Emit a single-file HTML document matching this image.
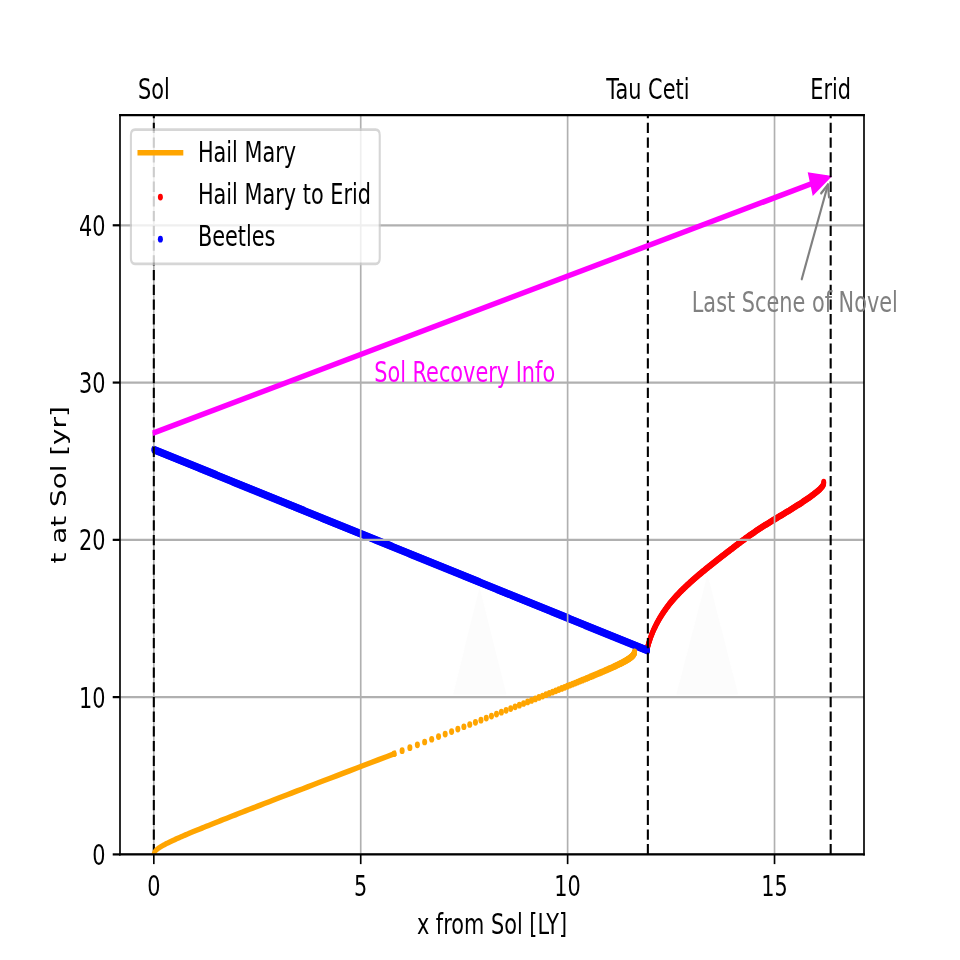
<!DOCTYPE html>
<html lang="en"><head><meta charset="utf-8"><title>Hail Mary spacetime diagram</title>
<style>
html,body{margin:0;padding:0;background:#fff;}
body{width:960px;height:960px;overflow:hidden;font-family:"DejaVu Sans","Liberation Sans",sans-serif;}
svg{display:block;}
svg text{font-family:"DejaVu Sans","Liberation Sans",sans-serif;}
</style></head><body>
<svg width="960" height="960" viewBox="0 0 1280 960" preserveAspectRatio="none">
 <defs>
  <style type="text/css">*{stroke-linejoin: round; stroke-linecap: butt}</style>
 </defs>
 <g id="figure_1">
  <g id="patch_1">
   <path d="M 0 960  L 1280 960  L 1280 0  L 0 0  z " style="fill: #ffffff"/>
  </g>
  <g id="axes_1">
   <g id="patch_2">
    <path d="M 160 854.4  L 1152 854.4  L 1152 115.2  L 160 115.2  z " style="fill: #ffffff"/>
   </g>
   <g id="patch_3">
    <path d="M 604.13 694.6  L 675.07 694.6  L 639.6 587.5  z " clip-path="url(#p3e86f9223a)" style="fill: #fcfcfc"/>
   </g>
   <g id="patch_4">
    <path d="M 901.87 694.4  L 984.13 694.4  L 943.33 574.8  z " clip-path="url(#p3e86f9223a)" style="fill: #fcfcfc"/>
   </g>
   <g id="PathCollection_1">
    <g clip-path="url(#p3e86f9223a)">
     <circle cx="862.88" cy="649.00" r="3.252" fill="#ff0000"/>
     <circle cx="863.24" cy="647.92" r="3.252" fill="#ff0000"/>
     <circle cx="863.61" cy="646.84" r="3.252" fill="#ff0000"/>
     <circle cx="864.00" cy="645.76" r="3.252" fill="#ff0000"/>
     <circle cx="864.40" cy="644.69" r="3.252" fill="#ff0000"/>
     <circle cx="864.81" cy="643.63" r="3.252" fill="#ff0000"/>
     <circle cx="865.23" cy="642.57" r="3.252" fill="#ff0000"/>
     <circle cx="865.67" cy="641.51" r="3.252" fill="#ff0000"/>
     <circle cx="866.12" cy="640.46" r="3.252" fill="#ff0000"/>
     <circle cx="866.58" cy="639.42" r="3.252" fill="#ff0000"/>
     <circle cx="867.06" cy="638.38" r="3.252" fill="#ff0000"/>
     <circle cx="867.55" cy="637.35" r="3.252" fill="#ff0000"/>
     <circle cx="868.05" cy="636.32" r="3.252" fill="#ff0000"/>
     <circle cx="868.56" cy="635.30" r="3.252" fill="#ff0000"/>
     <circle cx="869.09" cy="634.29" r="3.252" fill="#ff0000"/>
     <circle cx="869.62" cy="633.28" r="3.252" fill="#ff0000"/>
     <circle cx="870.17" cy="632.28" r="3.252" fill="#ff0000"/>
     <circle cx="870.73" cy="631.29" r="3.252" fill="#ff0000"/>
     <circle cx="871.31" cy="630.30" r="3.252" fill="#ff0000"/>
     <circle cx="871.89" cy="629.32" r="3.252" fill="#ff0000"/>
     <circle cx="872.48" cy="628.34" r="3.252" fill="#ff0000"/>
     <circle cx="873.09" cy="627.38" r="3.252" fill="#ff0000"/>
     <circle cx="873.71" cy="626.42" r="3.252" fill="#ff0000"/>
     <circle cx="874.33" cy="625.46" r="3.252" fill="#ff0000"/>
     <circle cx="874.97" cy="624.52" r="3.252" fill="#ff0000"/>
     <circle cx="875.62" cy="623.58" r="3.252" fill="#ff0000"/>
     <circle cx="876.28" cy="622.64" r="3.252" fill="#ff0000"/>
     <circle cx="876.94" cy="621.72" r="3.252" fill="#ff0000"/>
     <circle cx="877.62" cy="620.80" r="3.252" fill="#ff0000"/>
     <circle cx="878.31" cy="619.88" r="3.252" fill="#ff0000"/>
     <circle cx="879.00" cy="618.98" r="3.252" fill="#ff0000"/>
     <circle cx="879.71" cy="618.08" r="3.252" fill="#ff0000"/>
     <circle cx="880.42" cy="617.19" r="3.252" fill="#ff0000"/>
     <circle cx="881.14" cy="616.30" r="3.252" fill="#ff0000"/>
     <circle cx="881.87" cy="615.43" r="3.252" fill="#ff0000"/>
     <circle cx="882.61" cy="614.55" r="3.252" fill="#ff0000"/>
     <circle cx="883.36" cy="613.69" r="3.252" fill="#ff0000"/>
     <circle cx="884.11" cy="612.83" r="3.252" fill="#ff0000"/>
     <circle cx="884.87" cy="611.98" r="3.252" fill="#ff0000"/>
     <circle cx="885.64" cy="611.14" r="3.252" fill="#ff0000"/>
     <circle cx="886.42" cy="610.30" r="3.252" fill="#ff0000"/>
     <circle cx="887.20" cy="609.47" r="3.252" fill="#ff0000"/>
     <circle cx="887.99" cy="608.65" r="3.252" fill="#ff0000"/>
     <circle cx="888.79" cy="607.83" r="3.252" fill="#ff0000"/>
     <circle cx="889.59" cy="607.02" r="3.252" fill="#ff0000"/>
     <circle cx="890.40" cy="606.21" r="3.252" fill="#ff0000"/>
     <circle cx="891.22" cy="605.42" r="3.252" fill="#ff0000"/>
     <circle cx="892.04" cy="604.62" r="3.252" fill="#ff0000"/>
     <circle cx="892.87" cy="603.84" r="3.252" fill="#ff0000"/>
     <circle cx="893.70" cy="603.06" r="3.252" fill="#ff0000"/>
     <circle cx="894.54" cy="602.29" r="3.252" fill="#ff0000"/>
     <circle cx="895.39" cy="601.52" r="3.252" fill="#ff0000"/>
     <circle cx="896.24" cy="600.76" r="3.252" fill="#ff0000"/>
     <circle cx="897.09" cy="600.00" r="3.252" fill="#ff0000"/>
     <circle cx="897.96" cy="599.25" r="3.252" fill="#ff0000"/>
     <circle cx="898.82" cy="598.51" r="3.252" fill="#ff0000"/>
     <circle cx="899.69" cy="597.77" r="3.252" fill="#ff0000"/>
     <circle cx="900.57" cy="597.04" r="3.252" fill="#ff0000"/>
     <circle cx="901.45" cy="596.31" r="3.252" fill="#ff0000"/>
     <circle cx="902.33" cy="595.59" r="3.252" fill="#ff0000"/>
     <circle cx="903.22" cy="594.88" r="3.252" fill="#ff0000"/>
     <circle cx="904.12" cy="594.16" r="3.252" fill="#ff0000"/>
     <circle cx="905.01" cy="593.46" r="3.252" fill="#ff0000"/>
     <circle cx="905.92" cy="592.76" r="3.252" fill="#ff0000"/>
     <circle cx="906.82" cy="592.06" r="3.252" fill="#ff0000"/>
     <circle cx="907.73" cy="591.37" r="3.252" fill="#ff0000"/>
     <circle cx="908.64" cy="590.68" r="3.252" fill="#ff0000"/>
     <circle cx="909.56" cy="590.00" r="3.252" fill="#ff0000"/>
     <circle cx="910.47" cy="589.32" r="3.252" fill="#ff0000"/>
     <circle cx="911.39" cy="588.65" r="3.252" fill="#ff0000"/>
     <circle cx="912.32" cy="587.98" r="3.252" fill="#ff0000"/>
     <circle cx="913.24" cy="587.31" r="3.252" fill="#ff0000"/>
     <circle cx="914.17" cy="586.65" r="3.252" fill="#ff0000"/>
     <circle cx="915.11" cy="585.99" r="3.252" fill="#ff0000"/>
     <circle cx="916.04" cy="585.33" r="3.252" fill="#ff0000"/>
     <circle cx="916.98" cy="584.68" r="3.252" fill="#ff0000"/>
     <circle cx="917.91" cy="584.03" r="3.252" fill="#ff0000"/>
     <circle cx="918.86" cy="583.38" r="3.252" fill="#ff0000"/>
     <circle cx="919.80" cy="582.74" r="3.252" fill="#ff0000"/>
     <circle cx="920.74" cy="582.10" r="3.252" fill="#ff0000"/>
     <circle cx="921.69" cy="581.46" r="3.252" fill="#ff0000"/>
     <circle cx="922.64" cy="580.82" r="3.252" fill="#ff0000"/>
     <circle cx="923.59" cy="580.19" r="3.252" fill="#ff0000"/>
     <circle cx="924.54" cy="579.56" r="3.252" fill="#ff0000"/>
     <circle cx="925.50" cy="578.93" r="3.252" fill="#ff0000"/>
     <circle cx="926.45" cy="578.31" r="3.252" fill="#ff0000"/>
     <circle cx="927.41" cy="577.69" r="3.252" fill="#ff0000"/>
     <circle cx="928.37" cy="577.07" r="3.252" fill="#ff0000"/>
     <circle cx="929.33" cy="576.45" r="3.252" fill="#ff0000"/>
     <circle cx="930.29" cy="575.83" r="3.252" fill="#ff0000"/>
     <circle cx="931.25" cy="575.22" r="3.252" fill="#ff0000"/>
     <circle cx="932.22" cy="574.61" r="3.252" fill="#ff0000"/>
     <circle cx="933.18" cy="574.00" r="3.252" fill="#ff0000"/>
     <circle cx="934.15" cy="573.39" r="3.252" fill="#ff0000"/>
     <circle cx="935.12" cy="572.79" r="3.252" fill="#ff0000"/>
     <circle cx="936.09" cy="572.18" r="3.252" fill="#ff0000"/>
     <circle cx="937.06" cy="571.58" r="3.252" fill="#ff0000"/>
     <circle cx="938.03" cy="570.98" r="3.252" fill="#ff0000"/>
     <circle cx="939.00" cy="570.38" r="3.252" fill="#ff0000"/>
     <circle cx="939.97" cy="569.78" r="3.252" fill="#ff0000"/>
     <circle cx="940.95" cy="569.19" r="3.252" fill="#ff0000"/>
     <circle cx="941.92" cy="568.60" r="3.252" fill="#ff0000"/>
     <circle cx="942.90" cy="568.00" r="3.252" fill="#ff0000"/>
     <circle cx="943.87" cy="567.41" r="3.252" fill="#ff0000"/>
     <circle cx="944.85" cy="566.82" r="3.252" fill="#ff0000"/>
     <circle cx="945.83" cy="566.23" r="3.252" fill="#ff0000"/>
     <circle cx="946.81" cy="565.64" r="3.252" fill="#ff0000"/>
     <circle cx="947.79" cy="565.06" r="3.252" fill="#ff0000"/>
     <circle cx="948.77" cy="564.47" r="3.252" fill="#ff0000"/>
     <circle cx="949.75" cy="563.89" r="3.252" fill="#ff0000"/>
     <circle cx="950.73" cy="563.31" r="3.252" fill="#ff0000"/>
     <circle cx="951.71" cy="562.72" r="3.252" fill="#ff0000"/>
     <circle cx="952.69" cy="562.14" r="3.252" fill="#ff0000"/>
     <circle cx="953.68" cy="561.56" r="3.252" fill="#ff0000"/>
     <circle cx="954.66" cy="560.98" r="3.252" fill="#ff0000"/>
     <circle cx="955.64" cy="560.40" r="3.252" fill="#ff0000"/>
     <circle cx="956.63" cy="559.83" r="3.252" fill="#ff0000"/>
     <circle cx="957.61" cy="559.25" r="3.252" fill="#ff0000"/>
     <circle cx="958.60" cy="558.67" r="3.252" fill="#ff0000"/>
     <circle cx="959.59" cy="558.10" r="3.252" fill="#ff0000"/>
     <circle cx="960.57" cy="557.52" r="3.252" fill="#ff0000"/>
     <circle cx="961.56" cy="556.95" r="3.252" fill="#ff0000"/>
     <circle cx="962.55" cy="556.37" r="3.252" fill="#ff0000"/>
     <circle cx="963.53" cy="555.80" r="3.252" fill="#ff0000"/>
     <circle cx="964.52" cy="555.23" r="3.252" fill="#ff0000"/>
     <circle cx="965.51" cy="554.66" r="3.252" fill="#ff0000"/>
     <circle cx="966.50" cy="554.08" r="3.252" fill="#ff0000"/>
     <circle cx="967.48" cy="553.51" r="3.252" fill="#ff0000"/>
     <circle cx="968.47" cy="552.94" r="3.252" fill="#ff0000"/>
     <circle cx="969.46" cy="552.37" r="3.252" fill="#ff0000"/>
     <circle cx="970.45" cy="551.80" r="3.252" fill="#ff0000"/>
     <circle cx="971.44" cy="551.23" r="3.252" fill="#ff0000"/>
     <circle cx="972.43" cy="550.66" r="3.252" fill="#ff0000"/>
     <circle cx="973.42" cy="550.09" r="3.252" fill="#ff0000"/>
     <circle cx="974.41" cy="549.52" r="3.252" fill="#ff0000"/>
     <circle cx="975.40" cy="548.95" r="3.252" fill="#ff0000"/>
     <circle cx="976.39" cy="548.38" r="3.252" fill="#ff0000"/>
     <circle cx="977.38" cy="547.81" r="3.252" fill="#ff0000"/>
     <circle cx="978.37" cy="547.24" r="3.252" fill="#ff0000"/>
     <circle cx="979.36" cy="546.67" r="3.252" fill="#ff0000"/>
     <circle cx="980.35" cy="546.11" r="3.252" fill="#ff0000"/>
     <circle cx="981.34" cy="545.54" r="3.252" fill="#ff0000"/>
     <circle cx="982.33" cy="544.97" r="3.252" fill="#ff0000"/>
     <circle cx="983.32" cy="544.41" r="3.252" fill="#ff0000"/>
     <circle cx="984.32" cy="543.85" r="3.252" fill="#ff0000"/>
     <circle cx="985.31" cy="543.29" r="3.252" fill="#ff0000"/>
     <circle cx="986.30" cy="542.72" r="3.252" fill="#ff0000"/>
     <circle cx="987.30" cy="542.16" r="3.252" fill="#ff0000"/>
     <circle cx="988.29" cy="541.61" r="3.252" fill="#ff0000"/>
     <circle cx="989.29" cy="541.05" r="3.252" fill="#ff0000"/>
     <circle cx="990.29" cy="540.50" r="3.252" fill="#ff0000"/>
     <circle cx="991.29" cy="539.94" r="3.252" fill="#ff0000"/>
     <circle cx="992.29" cy="539.39" r="3.252" fill="#ff0000"/>
     <circle cx="993.29" cy="538.84" r="3.252" fill="#ff0000"/>
     <circle cx="994.29" cy="538.29" r="3.252" fill="#ff0000"/>
     <circle cx="995.29" cy="537.75" r="3.252" fill="#ff0000"/>
     <circle cx="996.30" cy="537.20" r="3.252" fill="#ff0000"/>
     <circle cx="997.30" cy="536.66" r="3.252" fill="#ff0000"/>
     <circle cx="998.31" cy="536.12" r="3.252" fill="#ff0000"/>
     <circle cx="999.31" cy="535.59" r="3.252" fill="#ff0000"/>
     <circle cx="1000.32" cy="535.05" r="3.252" fill="#ff0000"/>
     <circle cx="1001.33" cy="534.52" r="3.252" fill="#ff0000"/>
     <circle cx="1002.34" cy="533.99" r="3.252" fill="#ff0000"/>
     <circle cx="1003.36" cy="533.46" r="3.252" fill="#ff0000"/>
     <circle cx="1004.37" cy="532.93" r="3.252" fill="#ff0000"/>
     <circle cx="1005.38" cy="532.41" r="3.252" fill="#ff0000"/>
     <circle cx="1006.40" cy="531.89" r="3.252" fill="#ff0000"/>
     <circle cx="1007.42" cy="531.37" r="3.252" fill="#ff0000"/>
     <circle cx="1008.44" cy="530.86" r="3.252" fill="#ff0000"/>
     <circle cx="1009.46" cy="530.34" r="3.252" fill="#ff0000"/>
     <circle cx="1010.48" cy="529.83" r="3.252" fill="#ff0000"/>
     <circle cx="1011.50" cy="529.33" r="3.252" fill="#ff0000"/>
     <circle cx="1012.52" cy="528.82" r="3.252" fill="#ff0000"/>
     <circle cx="1013.55" cy="528.32" r="3.252" fill="#ff0000"/>
     <circle cx="1014.58" cy="527.82" r="3.252" fill="#ff0000"/>
     <circle cx="1015.60" cy="527.32" r="3.252" fill="#ff0000"/>
     <circle cx="1016.63" cy="526.83" r="3.252" fill="#ff0000"/>
     <circle cx="1017.66" cy="526.34" r="3.252" fill="#ff0000"/>
     <circle cx="1018.69" cy="525.85" r="3.252" fill="#ff0000"/>
     <circle cx="1019.73" cy="525.36" r="3.252" fill="#ff0000"/>
     <circle cx="1020.76" cy="524.87" r="3.252" fill="#ff0000"/>
     <circle cx="1021.79" cy="524.39" r="3.252" fill="#ff0000"/>
     <circle cx="1022.83" cy="523.91" r="3.252" fill="#ff0000"/>
     <circle cx="1023.86" cy="523.43" r="3.252" fill="#ff0000"/>
     <circle cx="1024.90" cy="522.95" r="3.252" fill="#ff0000"/>
     <circle cx="1025.94" cy="522.47" r="3.252" fill="#ff0000"/>
     <circle cx="1026.97" cy="521.99" r="3.252" fill="#ff0000"/>
     <circle cx="1028.01" cy="521.51" r="3.252" fill="#ff0000"/>
     <circle cx="1029.05" cy="521.04" r="3.252" fill="#ff0000"/>
     <circle cx="1030.09" cy="520.57" r="3.252" fill="#ff0000"/>
     <circle cx="1031.13" cy="520.09" r="3.252" fill="#ff0000"/>
     <circle cx="1032.17" cy="519.62" r="3.252" fill="#ff0000"/>
     <circle cx="1033.21" cy="519.15" r="3.252" fill="#ff0000"/>
     <circle cx="1034.25" cy="518.68" r="3.252" fill="#ff0000"/>
     <circle cx="1035.29" cy="518.21" r="3.252" fill="#ff0000"/>
     <circle cx="1036.33" cy="517.74" r="3.252" fill="#ff0000"/>
     <circle cx="1037.37" cy="517.27" r="3.252" fill="#ff0000"/>
     <circle cx="1038.41" cy="516.80" r="3.252" fill="#ff0000"/>
     <circle cx="1039.45" cy="516.33" r="3.252" fill="#ff0000"/>
     <circle cx="1040.49" cy="515.86" r="3.252" fill="#ff0000"/>
     <circle cx="1041.53" cy="515.39" r="3.252" fill="#ff0000"/>
     <circle cx="1042.57" cy="514.92" r="3.252" fill="#ff0000"/>
     <circle cx="1043.61" cy="514.45" r="3.252" fill="#ff0000"/>
     <circle cx="1044.65" cy="513.98" r="3.252" fill="#ff0000"/>
     <circle cx="1045.69" cy="513.51" r="3.252" fill="#ff0000"/>
     <circle cx="1046.73" cy="513.04" r="3.252" fill="#ff0000"/>
     <circle cx="1047.77" cy="512.56" r="3.252" fill="#ff0000"/>
     <circle cx="1048.81" cy="512.09" r="3.252" fill="#ff0000"/>
     <circle cx="1049.85" cy="511.62" r="3.252" fill="#ff0000"/>
     <circle cx="1050.89" cy="511.14" r="3.252" fill="#ff0000"/>
     <circle cx="1051.93" cy="510.67" r="3.252" fill="#ff0000"/>
     <circle cx="1052.96" cy="510.19" r="3.252" fill="#ff0000"/>
     <circle cx="1054.00" cy="509.72" r="3.252" fill="#ff0000"/>
     <circle cx="1055.04" cy="509.24" r="3.252" fill="#ff0000"/>
     <circle cx="1056.07" cy="508.76" r="3.252" fill="#ff0000"/>
     <circle cx="1057.11" cy="508.28" r="3.252" fill="#ff0000"/>
     <circle cx="1058.14" cy="507.80" r="3.252" fill="#ff0000"/>
     <circle cx="1059.18" cy="507.31" r="3.252" fill="#ff0000"/>
     <circle cx="1060.21" cy="506.83" r="3.252" fill="#ff0000"/>
     <circle cx="1061.25" cy="506.34" r="3.252" fill="#ff0000"/>
     <circle cx="1062.28" cy="505.85" r="3.252" fill="#ff0000"/>
     <circle cx="1063.31" cy="505.36" r="3.252" fill="#ff0000"/>
     <circle cx="1064.34" cy="504.87" r="3.252" fill="#ff0000"/>
     <circle cx="1065.37" cy="504.38" r="3.252" fill="#ff0000"/>
     <circle cx="1066.40" cy="503.88" r="3.252" fill="#ff0000"/>
     <circle cx="1067.42" cy="503.38" r="3.252" fill="#ff0000"/>
     <circle cx="1068.45" cy="502.88" r="3.252" fill="#ff0000"/>
     <circle cx="1069.47" cy="502.38" r="3.252" fill="#ff0000"/>
     <circle cx="1070.50" cy="501.87" r="3.252" fill="#ff0000"/>
     <circle cx="1071.52" cy="501.36" r="3.252" fill="#ff0000"/>
     <circle cx="1072.54" cy="500.85" r="3.252" fill="#ff0000"/>
     <circle cx="1073.56" cy="500.34" r="3.252" fill="#ff0000"/>
     <circle cx="1074.58" cy="499.82" r="3.252" fill="#ff0000"/>
     <circle cx="1075.59" cy="499.30" r="3.252" fill="#ff0000"/>
     <circle cx="1076.60" cy="498.77" r="3.252" fill="#ff0000"/>
     <circle cx="1077.62" cy="498.24" r="3.252" fill="#ff0000"/>
     <circle cx="1078.63" cy="497.71" r="3.252" fill="#ff0000"/>
     <circle cx="1079.63" cy="497.17" r="3.252" fill="#ff0000"/>
     <circle cx="1080.64" cy="496.63" r="3.252" fill="#ff0000"/>
     <circle cx="1081.64" cy="496.09" r="3.252" fill="#ff0000"/>
     <circle cx="1082.64" cy="495.54" r="3.252" fill="#ff0000"/>
     <circle cx="1083.64" cy="494.98" r="3.252" fill="#ff0000"/>
     <circle cx="1084.63" cy="494.42" r="3.252" fill="#ff0000"/>
     <circle cx="1085.62" cy="493.85" r="3.252" fill="#ff0000"/>
     <circle cx="1086.61" cy="493.28" r="3.252" fill="#ff0000"/>
     <circle cx="1087.60" cy="492.70" r="3.252" fill="#ff0000"/>
     <circle cx="1088.58" cy="492.12" r="3.252" fill="#ff0000"/>
     <circle cx="1089.55" cy="491.52" r="3.252" fill="#ff0000"/>
     <circle cx="1090.52" cy="490.92" r="3.252" fill="#ff0000"/>
     <circle cx="1091.48" cy="490.31" r="3.252" fill="#ff0000"/>
     <circle cx="1092.43" cy="489.67" r="3.252" fill="#ff0000"/>
     <circle cx="1093.37" cy="489.02" r="3.252" fill="#ff0000"/>
     <circle cx="1094.28" cy="488.33" r="3.252" fill="#ff0000"/>
     <circle cx="1095.17" cy="487.62" r="3.252" fill="#ff0000"/>
     <circle cx="1096.02" cy="486.85" r="3.252" fill="#ff0000"/>
     <circle cx="1096.81" cy="486.03" r="3.252" fill="#ff0000"/>
     <circle cx="1097.51" cy="485.13" r="3.252" fill="#ff0000"/>
     <circle cx="1098.06" cy="484.13" r="3.252" fill="#ff0000"/>
     <circle cx="1098.37" cy="483.03" r="3.252" fill="#ff0000"/>
     <circle cx="1098.31" cy="481.90" r="3.252" fill="#ff0000"/>
    </g>
   </g>
   <g id="PathCollection_2"/>
   <g id="PathCollection_3">
    <g clip-path="url(#p3e86f9223a)">
     <circle cx="863.33" cy="651.05" r="3.353" fill="#0000ff"/>
     <circle cx="861.68" cy="650.55" r="3.353" fill="#0000ff"/>
     <circle cx="860.04" cy="650.04" r="3.353" fill="#0000ff"/>
     <circle cx="858.39" cy="649.54" r="3.353" fill="#0000ff"/>
     <circle cx="856.74" cy="649.04" r="3.353" fill="#0000ff"/>
     <circle cx="855.09" cy="648.53" r="3.353" fill="#0000ff"/>
     <circle cx="853.44" cy="648.03" r="3.353" fill="#0000ff"/>
     <circle cx="851.79" cy="647.53" r="3.353" fill="#0000ff"/>
     <circle cx="850.14" cy="647.02" r="3.353" fill="#0000ff"/>
     <circle cx="848.49" cy="646.52" r="3.353" fill="#0000ff"/>
     <circle cx="846.84" cy="646.02" r="3.353" fill="#0000ff"/>
     <circle cx="845.19" cy="645.51" r="3.353" fill="#0000ff"/>
     <circle cx="843.54" cy="645.01" r="3.353" fill="#0000ff"/>
     <circle cx="841.89" cy="644.50" r="3.353" fill="#0000ff"/>
     <circle cx="840.25" cy="644.00" r="3.353" fill="#0000ff"/>
     <circle cx="838.60" cy="643.50" r="3.353" fill="#0000ff"/>
     <circle cx="836.95" cy="642.99" r="3.353" fill="#0000ff"/>
     <circle cx="835.30" cy="642.49" r="3.353" fill="#0000ff"/>
     <circle cx="833.65" cy="641.99" r="3.353" fill="#0000ff"/>
     <circle cx="832.00" cy="641.48" r="3.353" fill="#0000ff"/>
     <circle cx="830.35" cy="640.98" r="3.353" fill="#0000ff"/>
     <circle cx="828.70" cy="640.48" r="3.353" fill="#0000ff"/>
     <circle cx="827.05" cy="639.97" r="3.353" fill="#0000ff"/>
     <circle cx="825.40" cy="639.47" r="3.353" fill="#0000ff"/>
     <circle cx="823.75" cy="638.97" r="3.353" fill="#0000ff"/>
     <circle cx="822.11" cy="638.46" r="3.353" fill="#0000ff"/>
     <circle cx="820.46" cy="637.96" r="3.353" fill="#0000ff"/>
     <circle cx="818.81" cy="637.46" r="3.353" fill="#0000ff"/>
     <circle cx="817.16" cy="636.95" r="3.353" fill="#0000ff"/>
     <circle cx="815.51" cy="636.45" r="3.353" fill="#0000ff"/>
     <circle cx="813.86" cy="635.95" r="3.353" fill="#0000ff"/>
     <circle cx="812.21" cy="635.44" r="3.353" fill="#0000ff"/>
     <circle cx="810.56" cy="634.94" r="3.353" fill="#0000ff"/>
     <circle cx="808.91" cy="634.43" r="3.353" fill="#0000ff"/>
     <circle cx="807.26" cy="633.93" r="3.353" fill="#0000ff"/>
     <circle cx="805.61" cy="633.43" r="3.353" fill="#0000ff"/>
     <circle cx="803.96" cy="632.92" r="3.353" fill="#0000ff"/>
     <circle cx="802.32" cy="632.42" r="3.353" fill="#0000ff"/>
     <circle cx="800.67" cy="631.92" r="3.353" fill="#0000ff"/>
     <circle cx="799.02" cy="631.41" r="3.353" fill="#0000ff"/>
     <circle cx="797.37" cy="630.91" r="3.353" fill="#0000ff"/>
     <circle cx="795.72" cy="630.41" r="3.353" fill="#0000ff"/>
     <circle cx="794.07" cy="629.90" r="3.353" fill="#0000ff"/>
     <circle cx="792.42" cy="629.40" r="3.353" fill="#0000ff"/>
     <circle cx="790.77" cy="628.90" r="3.353" fill="#0000ff"/>
     <circle cx="789.12" cy="628.39" r="3.353" fill="#0000ff"/>
     <circle cx="787.47" cy="627.89" r="3.353" fill="#0000ff"/>
     <circle cx="785.82" cy="627.39" r="3.353" fill="#0000ff"/>
     <circle cx="784.18" cy="626.88" r="3.353" fill="#0000ff"/>
     <circle cx="782.53" cy="626.38" r="3.353" fill="#0000ff"/>
     <circle cx="780.88" cy="625.88" r="3.353" fill="#0000ff"/>
     <circle cx="779.23" cy="625.37" r="3.353" fill="#0000ff"/>
     <circle cx="777.58" cy="624.87" r="3.353" fill="#0000ff"/>
     <circle cx="775.93" cy="624.36" r="3.353" fill="#0000ff"/>
     <circle cx="774.28" cy="623.86" r="3.353" fill="#0000ff"/>
     <circle cx="772.63" cy="623.36" r="3.353" fill="#0000ff"/>
     <circle cx="770.98" cy="622.85" r="3.353" fill="#0000ff"/>
     <circle cx="769.33" cy="622.35" r="3.353" fill="#0000ff"/>
     <circle cx="767.68" cy="621.85" r="3.353" fill="#0000ff"/>
     <circle cx="766.04" cy="621.34" r="3.353" fill="#0000ff"/>
     <circle cx="764.39" cy="620.84" r="3.353" fill="#0000ff"/>
     <circle cx="762.74" cy="620.34" r="3.353" fill="#0000ff"/>
     <circle cx="761.09" cy="619.83" r="3.353" fill="#0000ff"/>
     <circle cx="759.44" cy="619.33" r="3.353" fill="#0000ff"/>
     <circle cx="757.79" cy="618.83" r="3.353" fill="#0000ff"/>
     <circle cx="756.14" cy="618.32" r="3.353" fill="#0000ff"/>
     <circle cx="754.49" cy="617.82" r="3.353" fill="#0000ff"/>
     <circle cx="752.84" cy="617.32" r="3.353" fill="#0000ff"/>
     <circle cx="751.19" cy="616.81" r="3.353" fill="#0000ff"/>
     <circle cx="749.54" cy="616.31" r="3.353" fill="#0000ff"/>
     <circle cx="747.89" cy="615.80" r="3.353" fill="#0000ff"/>
     <circle cx="746.25" cy="615.30" r="3.353" fill="#0000ff"/>
     <circle cx="744.60" cy="614.80" r="3.353" fill="#0000ff"/>
     <circle cx="742.95" cy="614.29" r="3.353" fill="#0000ff"/>
     <circle cx="741.30" cy="613.79" r="3.353" fill="#0000ff"/>
     <circle cx="739.65" cy="613.29" r="3.353" fill="#0000ff"/>
     <circle cx="738.00" cy="612.78" r="3.353" fill="#0000ff"/>
     <circle cx="736.35" cy="612.28" r="3.353" fill="#0000ff"/>
     <circle cx="734.70" cy="611.78" r="3.353" fill="#0000ff"/>
     <circle cx="733.05" cy="611.27" r="3.353" fill="#0000ff"/>
     <circle cx="731.40" cy="610.77" r="3.353" fill="#0000ff"/>
     <circle cx="729.75" cy="610.27" r="3.353" fill="#0000ff"/>
     <circle cx="728.11" cy="609.76" r="3.353" fill="#0000ff"/>
     <circle cx="726.46" cy="609.26" r="3.353" fill="#0000ff"/>
     <circle cx="724.81" cy="608.76" r="3.353" fill="#0000ff"/>
     <circle cx="723.16" cy="608.25" r="3.353" fill="#0000ff"/>
     <circle cx="721.51" cy="607.75" r="3.353" fill="#0000ff"/>
     <circle cx="719.86" cy="607.25" r="3.353" fill="#0000ff"/>
     <circle cx="718.21" cy="606.74" r="3.353" fill="#0000ff"/>
     <circle cx="716.56" cy="606.24" r="3.353" fill="#0000ff"/>
     <circle cx="714.91" cy="605.73" r="3.353" fill="#0000ff"/>
     <circle cx="713.26" cy="605.23" r="3.353" fill="#0000ff"/>
     <circle cx="711.61" cy="604.73" r="3.353" fill="#0000ff"/>
     <circle cx="709.96" cy="604.22" r="3.353" fill="#0000ff"/>
     <circle cx="708.32" cy="603.72" r="3.353" fill="#0000ff"/>
     <circle cx="706.67" cy="603.22" r="3.353" fill="#0000ff"/>
     <circle cx="705.02" cy="602.71" r="3.353" fill="#0000ff"/>
     <circle cx="703.37" cy="602.21" r="3.353" fill="#0000ff"/>
     <circle cx="701.72" cy="601.71" r="3.353" fill="#0000ff"/>
     <circle cx="700.07" cy="601.20" r="3.353" fill="#0000ff"/>
     <circle cx="698.42" cy="600.70" r="3.353" fill="#0000ff"/>
     <circle cx="696.77" cy="600.20" r="3.353" fill="#0000ff"/>
     <circle cx="695.12" cy="599.69" r="3.353" fill="#0000ff"/>
     <circle cx="693.47" cy="599.19" r="3.353" fill="#0000ff"/>
     <circle cx="691.82" cy="598.69" r="3.353" fill="#0000ff"/>
     <circle cx="690.18" cy="598.18" r="3.353" fill="#0000ff"/>
     <circle cx="688.53" cy="597.68" r="3.353" fill="#0000ff"/>
     <circle cx="686.88" cy="597.18" r="3.353" fill="#0000ff"/>
     <circle cx="685.23" cy="596.67" r="3.353" fill="#0000ff"/>
     <circle cx="683.58" cy="596.17" r="3.353" fill="#0000ff"/>
     <circle cx="681.93" cy="595.66" r="3.353" fill="#0000ff"/>
     <circle cx="680.28" cy="595.16" r="3.353" fill="#0000ff"/>
     <circle cx="678.63" cy="594.66" r="3.353" fill="#0000ff"/>
     <circle cx="676.98" cy="594.15" r="3.353" fill="#0000ff"/>
     <circle cx="675.33" cy="593.65" r="3.353" fill="#0000ff"/>
     <circle cx="673.68" cy="593.15" r="3.353" fill="#0000ff"/>
     <circle cx="672.04" cy="592.64" r="3.353" fill="#0000ff"/>
     <circle cx="670.39" cy="592.14" r="3.353" fill="#0000ff"/>
     <circle cx="668.74" cy="591.64" r="3.353" fill="#0000ff"/>
     <circle cx="667.09" cy="591.13" r="3.353" fill="#0000ff"/>
     <circle cx="665.44" cy="590.63" r="3.353" fill="#0000ff"/>
     <circle cx="663.79" cy="590.13" r="3.353" fill="#0000ff"/>
     <circle cx="662.14" cy="589.62" r="3.353" fill="#0000ff"/>
     <circle cx="660.49" cy="589.12" r="3.353" fill="#0000ff"/>
     <circle cx="658.84" cy="588.62" r="3.353" fill="#0000ff"/>
     <circle cx="657.19" cy="588.11" r="3.353" fill="#0000ff"/>
     <circle cx="655.54" cy="587.61" r="3.353" fill="#0000ff"/>
     <circle cx="653.89" cy="587.10" r="3.353" fill="#0000ff"/>
     <circle cx="652.25" cy="586.60" r="3.353" fill="#0000ff"/>
     <circle cx="650.60" cy="586.10" r="3.353" fill="#0000ff"/>
     <circle cx="648.95" cy="585.59" r="3.353" fill="#0000ff"/>
     <circle cx="647.30" cy="585.09" r="3.353" fill="#0000ff"/>
     <circle cx="645.65" cy="584.59" r="3.353" fill="#0000ff"/>
     <circle cx="644.00" cy="584.08" r="3.353" fill="#0000ff"/>
     <circle cx="642.35" cy="583.58" r="3.353" fill="#0000ff"/>
     <circle cx="640.70" cy="583.08" r="3.353" fill="#0000ff"/>
     <circle cx="639.05" cy="582.57" r="3.353" fill="#0000ff"/>
     <circle cx="637.40" cy="582.07" r="3.353" fill="#0000ff"/>
     <circle cx="635.75" cy="581.57" r="3.353" fill="#0000ff"/>
     <circle cx="634.11" cy="581.06" r="3.353" fill="#0000ff"/>
     <circle cx="632.46" cy="580.56" r="3.353" fill="#0000ff"/>
     <circle cx="630.81" cy="580.06" r="3.353" fill="#0000ff"/>
     <circle cx="629.16" cy="579.55" r="3.353" fill="#0000ff"/>
     <circle cx="627.51" cy="579.05" r="3.353" fill="#0000ff"/>
     <circle cx="625.86" cy="578.55" r="3.353" fill="#0000ff"/>
     <circle cx="624.21" cy="578.04" r="3.353" fill="#0000ff"/>
     <circle cx="622.56" cy="577.54" r="3.353" fill="#0000ff"/>
     <circle cx="620.91" cy="577.03" r="3.353" fill="#0000ff"/>
     <circle cx="619.26" cy="576.53" r="3.353" fill="#0000ff"/>
     <circle cx="617.61" cy="576.03" r="3.353" fill="#0000ff"/>
     <circle cx="615.96" cy="575.52" r="3.353" fill="#0000ff"/>
     <circle cx="614.32" cy="575.02" r="3.353" fill="#0000ff"/>
     <circle cx="612.67" cy="574.52" r="3.353" fill="#0000ff"/>
     <circle cx="611.02" cy="574.01" r="3.353" fill="#0000ff"/>
     <circle cx="609.37" cy="573.51" r="3.353" fill="#0000ff"/>
     <circle cx="607.72" cy="573.01" r="3.353" fill="#0000ff"/>
     <circle cx="606.07" cy="572.50" r="3.353" fill="#0000ff"/>
     <circle cx="604.42" cy="572.00" r="3.353" fill="#0000ff"/>
     <circle cx="602.77" cy="571.50" r="3.353" fill="#0000ff"/>
     <circle cx="601.12" cy="570.99" r="3.353" fill="#0000ff"/>
     <circle cx="599.47" cy="570.49" r="3.353" fill="#0000ff"/>
     <circle cx="597.82" cy="569.99" r="3.353" fill="#0000ff"/>
     <circle cx="596.18" cy="569.48" r="3.353" fill="#0000ff"/>
     <circle cx="594.53" cy="568.98" r="3.353" fill="#0000ff"/>
     <circle cx="592.88" cy="568.48" r="3.353" fill="#0000ff"/>
     <circle cx="591.23" cy="567.97" r="3.353" fill="#0000ff"/>
     <circle cx="589.58" cy="567.47" r="3.353" fill="#0000ff"/>
     <circle cx="587.93" cy="566.96" r="3.353" fill="#0000ff"/>
     <circle cx="586.28" cy="566.46" r="3.353" fill="#0000ff"/>
     <circle cx="584.63" cy="565.96" r="3.353" fill="#0000ff"/>
     <circle cx="582.98" cy="565.45" r="3.353" fill="#0000ff"/>
     <circle cx="581.33" cy="564.95" r="3.353" fill="#0000ff"/>
     <circle cx="579.68" cy="564.45" r="3.353" fill="#0000ff"/>
     <circle cx="578.04" cy="563.94" r="3.353" fill="#0000ff"/>
     <circle cx="576.39" cy="563.44" r="3.353" fill="#0000ff"/>
     <circle cx="574.74" cy="562.94" r="3.353" fill="#0000ff"/>
     <circle cx="573.09" cy="562.43" r="3.353" fill="#0000ff"/>
     <circle cx="571.44" cy="561.93" r="3.353" fill="#0000ff"/>
     <circle cx="569.79" cy="561.43" r="3.353" fill="#0000ff"/>
     <circle cx="568.14" cy="560.92" r="3.353" fill="#0000ff"/>
     <circle cx="566.49" cy="560.42" r="3.353" fill="#0000ff"/>
     <circle cx="564.84" cy="559.92" r="3.353" fill="#0000ff"/>
     <circle cx="563.19" cy="559.41" r="3.353" fill="#0000ff"/>
     <circle cx="561.54" cy="558.91" r="3.353" fill="#0000ff"/>
     <circle cx="559.89" cy="558.40" r="3.353" fill="#0000ff"/>
     <circle cx="558.25" cy="557.90" r="3.353" fill="#0000ff"/>
     <circle cx="556.60" cy="557.40" r="3.353" fill="#0000ff"/>
     <circle cx="554.95" cy="556.89" r="3.353" fill="#0000ff"/>
     <circle cx="553.30" cy="556.39" r="3.353" fill="#0000ff"/>
     <circle cx="551.65" cy="555.89" r="3.353" fill="#0000ff"/>
     <circle cx="550.00" cy="555.38" r="3.353" fill="#0000ff"/>
     <circle cx="548.35" cy="554.88" r="3.353" fill="#0000ff"/>
     <circle cx="546.70" cy="554.38" r="3.353" fill="#0000ff"/>
     <circle cx="545.05" cy="553.87" r="3.353" fill="#0000ff"/>
     <circle cx="543.40" cy="553.37" r="3.353" fill="#0000ff"/>
     <circle cx="541.75" cy="552.87" r="3.353" fill="#0000ff"/>
     <circle cx="540.11" cy="552.36" r="3.353" fill="#0000ff"/>
     <circle cx="538.46" cy="551.86" r="3.353" fill="#0000ff"/>
     <circle cx="536.81" cy="551.36" r="3.353" fill="#0000ff"/>
     <circle cx="535.16" cy="550.85" r="3.353" fill="#0000ff"/>
     <circle cx="533.51" cy="550.35" r="3.353" fill="#0000ff"/>
     <circle cx="531.86" cy="549.85" r="3.353" fill="#0000ff"/>
     <circle cx="530.21" cy="549.34" r="3.353" fill="#0000ff"/>
     <circle cx="528.56" cy="548.84" r="3.353" fill="#0000ff"/>
     <circle cx="526.91" cy="548.33" r="3.353" fill="#0000ff"/>
     <circle cx="525.26" cy="547.83" r="3.353" fill="#0000ff"/>
     <circle cx="523.61" cy="547.33" r="3.353" fill="#0000ff"/>
     <circle cx="521.96" cy="546.82" r="3.353" fill="#0000ff"/>
     <circle cx="520.32" cy="546.32" r="3.353" fill="#0000ff"/>
     <circle cx="518.67" cy="545.82" r="3.353" fill="#0000ff"/>
     <circle cx="517.02" cy="545.31" r="3.353" fill="#0000ff"/>
     <circle cx="515.37" cy="544.81" r="3.353" fill="#0000ff"/>
     <circle cx="513.72" cy="544.31" r="3.353" fill="#0000ff"/>
     <circle cx="512.07" cy="543.80" r="3.353" fill="#0000ff"/>
     <circle cx="510.42" cy="543.30" r="3.353" fill="#0000ff"/>
     <circle cx="508.77" cy="542.80" r="3.353" fill="#0000ff"/>
     <circle cx="507.12" cy="542.29" r="3.353" fill="#0000ff"/>
     <circle cx="505.47" cy="541.79" r="3.353" fill="#0000ff"/>
     <circle cx="503.82" cy="541.29" r="3.353" fill="#0000ff"/>
     <circle cx="502.18" cy="540.78" r="3.353" fill="#0000ff"/>
     <circle cx="500.53" cy="540.28" r="3.353" fill="#0000ff"/>
     <circle cx="498.88" cy="539.78" r="3.353" fill="#0000ff"/>
     <circle cx="497.23" cy="539.27" r="3.353" fill="#0000ff"/>
     <circle cx="495.58" cy="538.77" r="3.353" fill="#0000ff"/>
     <circle cx="493.93" cy="538.26" r="3.353" fill="#0000ff"/>
     <circle cx="492.28" cy="537.76" r="3.353" fill="#0000ff"/>
     <circle cx="490.63" cy="537.26" r="3.353" fill="#0000ff"/>
     <circle cx="488.98" cy="536.75" r="3.353" fill="#0000ff"/>
     <circle cx="487.33" cy="536.25" r="3.353" fill="#0000ff"/>
     <circle cx="485.68" cy="535.75" r="3.353" fill="#0000ff"/>
     <circle cx="484.04" cy="535.24" r="3.353" fill="#0000ff"/>
     <circle cx="482.39" cy="534.74" r="3.353" fill="#0000ff"/>
     <circle cx="480.74" cy="534.24" r="3.353" fill="#0000ff"/>
     <circle cx="479.09" cy="533.73" r="3.353" fill="#0000ff"/>
     <circle cx="477.44" cy="533.23" r="3.353" fill="#0000ff"/>
     <circle cx="475.79" cy="532.73" r="3.353" fill="#0000ff"/>
     <circle cx="474.14" cy="532.22" r="3.353" fill="#0000ff"/>
     <circle cx="472.49" cy="531.72" r="3.353" fill="#0000ff"/>
     <circle cx="470.84" cy="531.22" r="3.353" fill="#0000ff"/>
     <circle cx="469.19" cy="530.71" r="3.353" fill="#0000ff"/>
     <circle cx="467.54" cy="530.21" r="3.353" fill="#0000ff"/>
     <circle cx="465.89" cy="529.70" r="3.353" fill="#0000ff"/>
     <circle cx="464.25" cy="529.20" r="3.353" fill="#0000ff"/>
     <circle cx="462.60" cy="528.70" r="3.353" fill="#0000ff"/>
     <circle cx="460.95" cy="528.19" r="3.353" fill="#0000ff"/>
     <circle cx="459.30" cy="527.69" r="3.353" fill="#0000ff"/>
     <circle cx="457.65" cy="527.19" r="3.353" fill="#0000ff"/>
     <circle cx="456.00" cy="526.68" r="3.353" fill="#0000ff"/>
     <circle cx="454.35" cy="526.18" r="3.353" fill="#0000ff"/>
     <circle cx="452.70" cy="525.68" r="3.353" fill="#0000ff"/>
     <circle cx="451.05" cy="525.17" r="3.353" fill="#0000ff"/>
     <circle cx="449.40" cy="524.67" r="3.353" fill="#0000ff"/>
     <circle cx="447.75" cy="524.17" r="3.353" fill="#0000ff"/>
     <circle cx="446.11" cy="523.66" r="3.353" fill="#0000ff"/>
     <circle cx="444.46" cy="523.16" r="3.353" fill="#0000ff"/>
     <circle cx="442.81" cy="522.66" r="3.353" fill="#0000ff"/>
     <circle cx="441.16" cy="522.15" r="3.353" fill="#0000ff"/>
     <circle cx="439.51" cy="521.65" r="3.353" fill="#0000ff"/>
     <circle cx="437.86" cy="521.15" r="3.353" fill="#0000ff"/>
     <circle cx="436.21" cy="520.64" r="3.353" fill="#0000ff"/>
     <circle cx="434.56" cy="520.14" r="3.353" fill="#0000ff"/>
     <circle cx="432.91" cy="519.63" r="3.353" fill="#0000ff"/>
     <circle cx="431.26" cy="519.13" r="3.353" fill="#0000ff"/>
     <circle cx="429.61" cy="518.63" r="3.353" fill="#0000ff"/>
     <circle cx="427.96" cy="518.12" r="3.353" fill="#0000ff"/>
     <circle cx="426.32" cy="517.62" r="3.353" fill="#0000ff"/>
     <circle cx="424.67" cy="517.12" r="3.353" fill="#0000ff"/>
     <circle cx="423.02" cy="516.61" r="3.353" fill="#0000ff"/>
     <circle cx="421.37" cy="516.11" r="3.353" fill="#0000ff"/>
     <circle cx="419.72" cy="515.61" r="3.353" fill="#0000ff"/>
     <circle cx="418.07" cy="515.10" r="3.353" fill="#0000ff"/>
     <circle cx="416.42" cy="514.60" r="3.353" fill="#0000ff"/>
     <circle cx="414.77" cy="514.10" r="3.353" fill="#0000ff"/>
     <circle cx="413.12" cy="513.59" r="3.353" fill="#0000ff"/>
     <circle cx="411.47" cy="513.09" r="3.353" fill="#0000ff"/>
     <circle cx="409.82" cy="512.59" r="3.353" fill="#0000ff"/>
     <circle cx="408.18" cy="512.08" r="3.353" fill="#0000ff"/>
     <circle cx="406.53" cy="511.58" r="3.353" fill="#0000ff"/>
     <circle cx="404.88" cy="511.08" r="3.353" fill="#0000ff"/>
     <circle cx="403.23" cy="510.57" r="3.353" fill="#0000ff"/>
     <circle cx="401.58" cy="510.07" r="3.353" fill="#0000ff"/>
     <circle cx="399.93" cy="509.56" r="3.353" fill="#0000ff"/>
     <circle cx="398.28" cy="509.06" r="3.353" fill="#0000ff"/>
     <circle cx="396.63" cy="508.56" r="3.353" fill="#0000ff"/>
     <circle cx="394.98" cy="508.05" r="3.353" fill="#0000ff"/>
     <circle cx="393.33" cy="507.55" r="3.353" fill="#0000ff"/>
     <circle cx="391.68" cy="507.05" r="3.353" fill="#0000ff"/>
     <circle cx="390.04" cy="506.54" r="3.353" fill="#0000ff"/>
     <circle cx="388.39" cy="506.04" r="3.353" fill="#0000ff"/>
     <circle cx="386.74" cy="505.54" r="3.353" fill="#0000ff"/>
     <circle cx="385.09" cy="505.03" r="3.353" fill="#0000ff"/>
     <circle cx="383.44" cy="504.53" r="3.353" fill="#0000ff"/>
     <circle cx="381.79" cy="504.03" r="3.353" fill="#0000ff"/>
     <circle cx="380.14" cy="503.52" r="3.353" fill="#0000ff"/>
     <circle cx="378.49" cy="503.02" r="3.353" fill="#0000ff"/>
     <circle cx="376.84" cy="502.52" r="3.353" fill="#0000ff"/>
     <circle cx="375.19" cy="502.01" r="3.353" fill="#0000ff"/>
     <circle cx="373.54" cy="501.51" r="3.353" fill="#0000ff"/>
     <circle cx="371.89" cy="501.00" r="3.353" fill="#0000ff"/>
     <circle cx="370.25" cy="500.50" r="3.353" fill="#0000ff"/>
     <circle cx="368.60" cy="500.00" r="3.353" fill="#0000ff"/>
     <circle cx="366.95" cy="499.49" r="3.353" fill="#0000ff"/>
     <circle cx="365.30" cy="498.99" r="3.353" fill="#0000ff"/>
     <circle cx="363.65" cy="498.49" r="3.353" fill="#0000ff"/>
     <circle cx="362.00" cy="497.98" r="3.353" fill="#0000ff"/>
     <circle cx="360.35" cy="497.48" r="3.353" fill="#0000ff"/>
     <circle cx="358.70" cy="496.98" r="3.353" fill="#0000ff"/>
     <circle cx="357.05" cy="496.47" r="3.353" fill="#0000ff"/>
     <circle cx="355.40" cy="495.97" r="3.353" fill="#0000ff"/>
     <circle cx="353.75" cy="495.47" r="3.353" fill="#0000ff"/>
     <circle cx="352.11" cy="494.96" r="3.353" fill="#0000ff"/>
     <circle cx="350.46" cy="494.46" r="3.353" fill="#0000ff"/>
     <circle cx="348.81" cy="493.96" r="3.353" fill="#0000ff"/>
     <circle cx="347.16" cy="493.45" r="3.353" fill="#0000ff"/>
     <circle cx="345.51" cy="492.95" r="3.353" fill="#0000ff"/>
     <circle cx="343.86" cy="492.45" r="3.353" fill="#0000ff"/>
     <circle cx="342.21" cy="491.94" r="3.353" fill="#0000ff"/>
     <circle cx="340.56" cy="491.44" r="3.353" fill="#0000ff"/>
     <circle cx="338.91" cy="490.93" r="3.353" fill="#0000ff"/>
     <circle cx="337.26" cy="490.43" r="3.353" fill="#0000ff"/>
     <circle cx="335.61" cy="489.93" r="3.353" fill="#0000ff"/>
     <circle cx="333.96" cy="489.42" r="3.353" fill="#0000ff"/>
     <circle cx="332.32" cy="488.92" r="3.353" fill="#0000ff"/>
     <circle cx="330.67" cy="488.42" r="3.353" fill="#0000ff"/>
     <circle cx="329.02" cy="487.91" r="3.353" fill="#0000ff"/>
     <circle cx="327.37" cy="487.41" r="3.353" fill="#0000ff"/>
     <circle cx="325.72" cy="486.91" r="3.353" fill="#0000ff"/>
     <circle cx="324.07" cy="486.40" r="3.353" fill="#0000ff"/>
     <circle cx="322.42" cy="485.90" r="3.353" fill="#0000ff"/>
     <circle cx="320.77" cy="485.40" r="3.353" fill="#0000ff"/>
     <circle cx="319.12" cy="484.89" r="3.353" fill="#0000ff"/>
     <circle cx="317.47" cy="484.39" r="3.353" fill="#0000ff"/>
     <circle cx="315.82" cy="483.89" r="3.353" fill="#0000ff"/>
     <circle cx="314.18" cy="483.38" r="3.353" fill="#0000ff"/>
     <circle cx="312.53" cy="482.88" r="3.353" fill="#0000ff"/>
     <circle cx="310.88" cy="482.38" r="3.353" fill="#0000ff"/>
     <circle cx="309.23" cy="481.87" r="3.353" fill="#0000ff"/>
     <circle cx="307.58" cy="481.37" r="3.353" fill="#0000ff"/>
     <circle cx="305.93" cy="480.86" r="3.353" fill="#0000ff"/>
     <circle cx="304.28" cy="480.36" r="3.353" fill="#0000ff"/>
     <circle cx="302.63" cy="479.86" r="3.353" fill="#0000ff"/>
     <circle cx="300.98" cy="479.35" r="3.353" fill="#0000ff"/>
     <circle cx="299.33" cy="478.85" r="3.353" fill="#0000ff"/>
     <circle cx="297.68" cy="478.35" r="3.353" fill="#0000ff"/>
     <circle cx="296.04" cy="477.84" r="3.353" fill="#0000ff"/>
     <circle cx="294.39" cy="477.34" r="3.353" fill="#0000ff"/>
     <circle cx="292.74" cy="476.84" r="3.353" fill="#0000ff"/>
     <circle cx="291.09" cy="476.33" r="3.353" fill="#0000ff"/>
     <circle cx="289.44" cy="475.83" r="3.353" fill="#0000ff"/>
     <circle cx="287.79" cy="475.33" r="3.353" fill="#0000ff"/>
     <circle cx="286.14" cy="474.82" r="3.353" fill="#0000ff"/>
     <circle cx="284.49" cy="474.32" r="3.353" fill="#0000ff"/>
     <circle cx="282.84" cy="473.82" r="3.353" fill="#0000ff"/>
     <circle cx="281.19" cy="473.31" r="3.353" fill="#0000ff"/>
     <circle cx="279.54" cy="472.81" r="3.353" fill="#0000ff"/>
     <circle cx="277.89" cy="472.30" r="3.353" fill="#0000ff"/>
     <circle cx="276.25" cy="471.80" r="3.353" fill="#0000ff"/>
     <circle cx="274.60" cy="471.30" r="3.353" fill="#0000ff"/>
     <circle cx="272.95" cy="470.79" r="3.353" fill="#0000ff"/>
     <circle cx="271.30" cy="470.29" r="3.353" fill="#0000ff"/>
     <circle cx="269.65" cy="469.79" r="3.353" fill="#0000ff"/>
     <circle cx="268.00" cy="469.28" r="3.353" fill="#0000ff"/>
     <circle cx="266.35" cy="468.78" r="3.353" fill="#0000ff"/>
     <circle cx="264.70" cy="468.28" r="3.353" fill="#0000ff"/>
     <circle cx="263.05" cy="467.77" r="3.353" fill="#0000ff"/>
     <circle cx="261.40" cy="467.27" r="3.353" fill="#0000ff"/>
     <circle cx="259.75" cy="466.77" r="3.353" fill="#0000ff"/>
     <circle cx="258.11" cy="466.26" r="3.353" fill="#0000ff"/>
     <circle cx="256.46" cy="465.76" r="3.353" fill="#0000ff"/>
     <circle cx="254.81" cy="465.26" r="3.353" fill="#0000ff"/>
     <circle cx="253.16" cy="464.75" r="3.353" fill="#0000ff"/>
     <circle cx="251.51" cy="464.25" r="3.353" fill="#0000ff"/>
     <circle cx="249.86" cy="463.75" r="3.353" fill="#0000ff"/>
     <circle cx="248.21" cy="463.24" r="3.353" fill="#0000ff"/>
     <circle cx="246.56" cy="462.74" r="3.353" fill="#0000ff"/>
     <circle cx="244.91" cy="462.23" r="3.353" fill="#0000ff"/>
     <circle cx="243.26" cy="461.73" r="3.353" fill="#0000ff"/>
     <circle cx="241.61" cy="461.23" r="3.353" fill="#0000ff"/>
     <circle cx="239.96" cy="460.72" r="3.353" fill="#0000ff"/>
     <circle cx="238.32" cy="460.22" r="3.353" fill="#0000ff"/>
     <circle cx="236.67" cy="459.72" r="3.353" fill="#0000ff"/>
     <circle cx="235.02" cy="459.21" r="3.353" fill="#0000ff"/>
     <circle cx="233.37" cy="458.71" r="3.353" fill="#0000ff"/>
     <circle cx="231.72" cy="458.21" r="3.353" fill="#0000ff"/>
     <circle cx="230.07" cy="457.70" r="3.353" fill="#0000ff"/>
     <circle cx="228.42" cy="457.20" r="3.353" fill="#0000ff"/>
     <circle cx="226.77" cy="456.70" r="3.353" fill="#0000ff"/>
     <circle cx="225.12" cy="456.19" r="3.353" fill="#0000ff"/>
     <circle cx="223.47" cy="455.69" r="3.353" fill="#0000ff"/>
     <circle cx="221.82" cy="455.19" r="3.353" fill="#0000ff"/>
     <circle cx="220.18" cy="454.68" r="3.353" fill="#0000ff"/>
     <circle cx="218.53" cy="454.18" r="3.353" fill="#0000ff"/>
     <circle cx="216.88" cy="453.68" r="3.353" fill="#0000ff"/>
     <circle cx="215.23" cy="453.17" r="3.353" fill="#0000ff"/>
     <circle cx="213.58" cy="452.67" r="3.353" fill="#0000ff"/>
     <circle cx="211.93" cy="452.16" r="3.353" fill="#0000ff"/>
     <circle cx="210.28" cy="451.66" r="3.353" fill="#0000ff"/>
     <circle cx="208.63" cy="451.16" r="3.353" fill="#0000ff"/>
     <circle cx="206.98" cy="450.65" r="3.353" fill="#0000ff"/>
     <circle cx="205.33" cy="450.15" r="3.353" fill="#0000ff"/>
     <circle cx="863.33" cy="649.95" r="3.353" fill="#0000ff"/>
     <circle cx="861.68" cy="649.45" r="3.353" fill="#0000ff"/>
     <circle cx="860.04" cy="648.94" r="3.353" fill="#0000ff"/>
     <circle cx="858.39" cy="648.44" r="3.353" fill="#0000ff"/>
     <circle cx="856.74" cy="647.94" r="3.353" fill="#0000ff"/>
     <circle cx="855.09" cy="647.43" r="3.353" fill="#0000ff"/>
     <circle cx="853.44" cy="646.93" r="3.353" fill="#0000ff"/>
     <circle cx="851.79" cy="646.42" r="3.353" fill="#0000ff"/>
     <circle cx="850.14" cy="645.92" r="3.353" fill="#0000ff"/>
     <circle cx="848.49" cy="645.42" r="3.353" fill="#0000ff"/>
     <circle cx="846.84" cy="644.91" r="3.353" fill="#0000ff"/>
     <circle cx="845.19" cy="644.41" r="3.353" fill="#0000ff"/>
     <circle cx="843.54" cy="643.91" r="3.353" fill="#0000ff"/>
     <circle cx="841.89" cy="643.40" r="3.353" fill="#0000ff"/>
     <circle cx="840.25" cy="642.90" r="3.353" fill="#0000ff"/>
     <circle cx="838.60" cy="642.40" r="3.353" fill="#0000ff"/>
     <circle cx="836.95" cy="641.89" r="3.353" fill="#0000ff"/>
     <circle cx="835.30" cy="641.39" r="3.353" fill="#0000ff"/>
     <circle cx="833.65" cy="640.89" r="3.353" fill="#0000ff"/>
     <circle cx="832.00" cy="640.38" r="3.353" fill="#0000ff"/>
     <circle cx="830.35" cy="639.88" r="3.353" fill="#0000ff"/>
     <circle cx="828.70" cy="639.38" r="3.353" fill="#0000ff"/>
     <circle cx="827.05" cy="638.87" r="3.353" fill="#0000ff"/>
     <circle cx="825.40" cy="638.37" r="3.353" fill="#0000ff"/>
     <circle cx="823.75" cy="637.87" r="3.353" fill="#0000ff"/>
     <circle cx="822.11" cy="637.36" r="3.353" fill="#0000ff"/>
     <circle cx="820.46" cy="636.86" r="3.353" fill="#0000ff"/>
     <circle cx="818.81" cy="636.35" r="3.353" fill="#0000ff"/>
     <circle cx="817.16" cy="635.85" r="3.353" fill="#0000ff"/>
     <circle cx="815.51" cy="635.35" r="3.353" fill="#0000ff"/>
     <circle cx="813.86" cy="634.84" r="3.353" fill="#0000ff"/>
     <circle cx="812.21" cy="634.34" r="3.353" fill="#0000ff"/>
     <circle cx="810.56" cy="633.84" r="3.353" fill="#0000ff"/>
     <circle cx="808.91" cy="633.33" r="3.353" fill="#0000ff"/>
     <circle cx="807.26" cy="632.83" r="3.353" fill="#0000ff"/>
     <circle cx="805.61" cy="632.33" r="3.353" fill="#0000ff"/>
     <circle cx="803.96" cy="631.82" r="3.353" fill="#0000ff"/>
     <circle cx="802.32" cy="631.32" r="3.353" fill="#0000ff"/>
     <circle cx="800.67" cy="630.82" r="3.353" fill="#0000ff"/>
     <circle cx="799.02" cy="630.31" r="3.353" fill="#0000ff"/>
     <circle cx="797.37" cy="629.81" r="3.353" fill="#0000ff"/>
     <circle cx="795.72" cy="629.31" r="3.353" fill="#0000ff"/>
     <circle cx="794.07" cy="628.80" r="3.353" fill="#0000ff"/>
     <circle cx="792.42" cy="628.30" r="3.353" fill="#0000ff"/>
     <circle cx="790.77" cy="627.80" r="3.353" fill="#0000ff"/>
     <circle cx="789.12" cy="627.29" r="3.353" fill="#0000ff"/>
     <circle cx="787.47" cy="626.79" r="3.353" fill="#0000ff"/>
     <circle cx="785.82" cy="626.28" r="3.353" fill="#0000ff"/>
     <circle cx="784.18" cy="625.78" r="3.353" fill="#0000ff"/>
     <circle cx="782.53" cy="625.28" r="3.353" fill="#0000ff"/>
     <circle cx="780.88" cy="624.77" r="3.353" fill="#0000ff"/>
     <circle cx="779.23" cy="624.27" r="3.353" fill="#0000ff"/>
     <circle cx="777.58" cy="623.77" r="3.353" fill="#0000ff"/>
     <circle cx="775.93" cy="623.26" r="3.353" fill="#0000ff"/>
     <circle cx="774.28" cy="622.76" r="3.353" fill="#0000ff"/>
     <circle cx="772.63" cy="622.26" r="3.353" fill="#0000ff"/>
     <circle cx="770.98" cy="621.75" r="3.353" fill="#0000ff"/>
     <circle cx="769.33" cy="621.25" r="3.353" fill="#0000ff"/>
     <circle cx="767.68" cy="620.75" r="3.353" fill="#0000ff"/>
     <circle cx="766.04" cy="620.24" r="3.353" fill="#0000ff"/>
     <circle cx="764.39" cy="619.74" r="3.353" fill="#0000ff"/>
     <circle cx="762.74" cy="619.24" r="3.353" fill="#0000ff"/>
     <circle cx="761.09" cy="618.73" r="3.353" fill="#0000ff"/>
     <circle cx="759.44" cy="618.23" r="3.353" fill="#0000ff"/>
     <circle cx="757.79" cy="617.72" r="3.353" fill="#0000ff"/>
     <circle cx="756.14" cy="617.22" r="3.353" fill="#0000ff"/>
     <circle cx="754.49" cy="616.72" r="3.353" fill="#0000ff"/>
     <circle cx="752.84" cy="616.21" r="3.353" fill="#0000ff"/>
     <circle cx="751.19" cy="615.71" r="3.353" fill="#0000ff"/>
     <circle cx="749.54" cy="615.21" r="3.353" fill="#0000ff"/>
     <circle cx="747.89" cy="614.70" r="3.353" fill="#0000ff"/>
     <circle cx="746.25" cy="614.20" r="3.353" fill="#0000ff"/>
     <circle cx="744.60" cy="613.70" r="3.353" fill="#0000ff"/>
     <circle cx="742.95" cy="613.19" r="3.353" fill="#0000ff"/>
     <circle cx="741.30" cy="612.69" r="3.353" fill="#0000ff"/>
     <circle cx="739.65" cy="612.19" r="3.353" fill="#0000ff"/>
     <circle cx="738.00" cy="611.68" r="3.353" fill="#0000ff"/>
     <circle cx="736.35" cy="611.18" r="3.353" fill="#0000ff"/>
     <circle cx="734.70" cy="610.68" r="3.353" fill="#0000ff"/>
     <circle cx="733.05" cy="610.17" r="3.353" fill="#0000ff"/>
     <circle cx="731.40" cy="609.67" r="3.353" fill="#0000ff"/>
     <circle cx="729.75" cy="609.17" r="3.353" fill="#0000ff"/>
     <circle cx="728.11" cy="608.66" r="3.353" fill="#0000ff"/>
     <circle cx="726.46" cy="608.16" r="3.353" fill="#0000ff"/>
     <circle cx="724.81" cy="607.65" r="3.353" fill="#0000ff"/>
     <circle cx="723.16" cy="607.15" r="3.353" fill="#0000ff"/>
     <circle cx="721.51" cy="606.65" r="3.353" fill="#0000ff"/>
     <circle cx="719.86" cy="606.14" r="3.353" fill="#0000ff"/>
     <circle cx="718.21" cy="605.64" r="3.353" fill="#0000ff"/>
     <circle cx="716.56" cy="605.14" r="3.353" fill="#0000ff"/>
     <circle cx="714.91" cy="604.63" r="3.353" fill="#0000ff"/>
     <circle cx="713.26" cy="604.13" r="3.353" fill="#0000ff"/>
     <circle cx="711.61" cy="603.63" r="3.353" fill="#0000ff"/>
     <circle cx="709.96" cy="603.12" r="3.353" fill="#0000ff"/>
     <circle cx="708.32" cy="602.62" r="3.353" fill="#0000ff"/>
     <circle cx="706.67" cy="602.12" r="3.353" fill="#0000ff"/>
     <circle cx="705.02" cy="601.61" r="3.353" fill="#0000ff"/>
     <circle cx="703.37" cy="601.11" r="3.353" fill="#0000ff"/>
     <circle cx="701.72" cy="600.61" r="3.353" fill="#0000ff"/>
     <circle cx="700.07" cy="600.10" r="3.353" fill="#0000ff"/>
     <circle cx="698.42" cy="599.60" r="3.353" fill="#0000ff"/>
     <circle cx="696.77" cy="599.10" r="3.353" fill="#0000ff"/>
     <circle cx="695.12" cy="598.59" r="3.353" fill="#0000ff"/>
     <circle cx="693.47" cy="598.09" r="3.353" fill="#0000ff"/>
     <circle cx="691.82" cy="597.58" r="3.353" fill="#0000ff"/>
     <circle cx="690.18" cy="597.08" r="3.353" fill="#0000ff"/>
     <circle cx="688.53" cy="596.58" r="3.353" fill="#0000ff"/>
     <circle cx="686.88" cy="596.07" r="3.353" fill="#0000ff"/>
     <circle cx="685.23" cy="595.57" r="3.353" fill="#0000ff"/>
     <circle cx="683.58" cy="595.07" r="3.353" fill="#0000ff"/>
     <circle cx="681.93" cy="594.56" r="3.353" fill="#0000ff"/>
     <circle cx="680.28" cy="594.06" r="3.353" fill="#0000ff"/>
     <circle cx="678.63" cy="593.56" r="3.353" fill="#0000ff"/>
     <circle cx="676.98" cy="593.05" r="3.353" fill="#0000ff"/>
     <circle cx="675.33" cy="592.55" r="3.353" fill="#0000ff"/>
     <circle cx="673.68" cy="592.05" r="3.353" fill="#0000ff"/>
     <circle cx="672.04" cy="591.54" r="3.353" fill="#0000ff"/>
     <circle cx="670.39" cy="591.04" r="3.353" fill="#0000ff"/>
     <circle cx="668.74" cy="590.54" r="3.353" fill="#0000ff"/>
     <circle cx="667.09" cy="590.03" r="3.353" fill="#0000ff"/>
     <circle cx="665.44" cy="589.53" r="3.353" fill="#0000ff"/>
     <circle cx="663.79" cy="589.02" r="3.353" fill="#0000ff"/>
     <circle cx="662.14" cy="588.52" r="3.353" fill="#0000ff"/>
     <circle cx="660.49" cy="588.02" r="3.353" fill="#0000ff"/>
     <circle cx="658.84" cy="587.51" r="3.353" fill="#0000ff"/>
     <circle cx="657.19" cy="587.01" r="3.353" fill="#0000ff"/>
     <circle cx="655.54" cy="586.51" r="3.353" fill="#0000ff"/>
     <circle cx="653.89" cy="586.00" r="3.353" fill="#0000ff"/>
     <circle cx="652.25" cy="585.50" r="3.353" fill="#0000ff"/>
     <circle cx="650.60" cy="585.00" r="3.353" fill="#0000ff"/>
     <circle cx="648.95" cy="584.49" r="3.353" fill="#0000ff"/>
     <circle cx="647.30" cy="583.99" r="3.353" fill="#0000ff"/>
     <circle cx="645.65" cy="583.49" r="3.353" fill="#0000ff"/>
     <circle cx="644.00" cy="582.98" r="3.353" fill="#0000ff"/>
     <circle cx="642.35" cy="582.48" r="3.353" fill="#0000ff"/>
     <circle cx="640.70" cy="581.98" r="3.353" fill="#0000ff"/>
     <circle cx="639.05" cy="581.47" r="3.353" fill="#0000ff"/>
     <circle cx="637.40" cy="580.97" r="3.353" fill="#0000ff"/>
     <circle cx="635.75" cy="580.47" r="3.353" fill="#0000ff"/>
     <circle cx="634.11" cy="579.96" r="3.353" fill="#0000ff"/>
     <circle cx="632.46" cy="579.46" r="3.353" fill="#0000ff"/>
     <circle cx="630.81" cy="578.95" r="3.353" fill="#0000ff"/>
     <circle cx="629.16" cy="578.45" r="3.353" fill="#0000ff"/>
     <circle cx="627.51" cy="577.95" r="3.353" fill="#0000ff"/>
     <circle cx="625.86" cy="577.44" r="3.353" fill="#0000ff"/>
     <circle cx="624.21" cy="576.94" r="3.353" fill="#0000ff"/>
     <circle cx="622.56" cy="576.44" r="3.353" fill="#0000ff"/>
     <circle cx="620.91" cy="575.93" r="3.353" fill="#0000ff"/>
     <circle cx="619.26" cy="575.43" r="3.353" fill="#0000ff"/>
     <circle cx="617.61" cy="574.93" r="3.353" fill="#0000ff"/>
     <circle cx="615.96" cy="574.42" r="3.353" fill="#0000ff"/>
     <circle cx="614.32" cy="573.92" r="3.353" fill="#0000ff"/>
     <circle cx="612.67" cy="573.42" r="3.353" fill="#0000ff"/>
     <circle cx="611.02" cy="572.91" r="3.353" fill="#0000ff"/>
     <circle cx="609.37" cy="572.41" r="3.353" fill="#0000ff"/>
     <circle cx="607.72" cy="571.91" r="3.353" fill="#0000ff"/>
     <circle cx="606.07" cy="571.40" r="3.353" fill="#0000ff"/>
     <circle cx="604.42" cy="570.90" r="3.353" fill="#0000ff"/>
     <circle cx="602.77" cy="570.40" r="3.353" fill="#0000ff"/>
     <circle cx="601.12" cy="569.89" r="3.353" fill="#0000ff"/>
     <circle cx="599.47" cy="569.39" r="3.353" fill="#0000ff"/>
     <circle cx="597.82" cy="568.88" r="3.353" fill="#0000ff"/>
     <circle cx="596.18" cy="568.38" r="3.353" fill="#0000ff"/>
     <circle cx="594.53" cy="567.88" r="3.353" fill="#0000ff"/>
     <circle cx="592.88" cy="567.37" r="3.353" fill="#0000ff"/>
     <circle cx="591.23" cy="566.87" r="3.353" fill="#0000ff"/>
     <circle cx="589.58" cy="566.37" r="3.353" fill="#0000ff"/>
     <circle cx="587.93" cy="565.86" r="3.353" fill="#0000ff"/>
     <circle cx="586.28" cy="565.36" r="3.353" fill="#0000ff"/>
     <circle cx="584.63" cy="564.86" r="3.353" fill="#0000ff"/>
     <circle cx="582.98" cy="564.35" r="3.353" fill="#0000ff"/>
     <circle cx="581.33" cy="563.85" r="3.353" fill="#0000ff"/>
     <circle cx="579.68" cy="563.35" r="3.353" fill="#0000ff"/>
     <circle cx="578.04" cy="562.84" r="3.353" fill="#0000ff"/>
     <circle cx="576.39" cy="562.34" r="3.353" fill="#0000ff"/>
     <circle cx="574.74" cy="561.84" r="3.353" fill="#0000ff"/>
     <circle cx="573.09" cy="561.33" r="3.353" fill="#0000ff"/>
     <circle cx="571.44" cy="560.83" r="3.353" fill="#0000ff"/>
     <circle cx="569.79" cy="560.32" r="3.353" fill="#0000ff"/>
     <circle cx="568.14" cy="559.82" r="3.353" fill="#0000ff"/>
     <circle cx="566.49" cy="559.32" r="3.353" fill="#0000ff"/>
     <circle cx="564.84" cy="558.81" r="3.353" fill="#0000ff"/>
     <circle cx="563.19" cy="558.31" r="3.353" fill="#0000ff"/>
     <circle cx="561.54" cy="557.81" r="3.353" fill="#0000ff"/>
     <circle cx="559.89" cy="557.30" r="3.353" fill="#0000ff"/>
     <circle cx="558.25" cy="556.80" r="3.353" fill="#0000ff"/>
     <circle cx="556.60" cy="556.30" r="3.353" fill="#0000ff"/>
     <circle cx="554.95" cy="555.79" r="3.353" fill="#0000ff"/>
     <circle cx="553.30" cy="555.29" r="3.353" fill="#0000ff"/>
     <circle cx="551.65" cy="554.79" r="3.353" fill="#0000ff"/>
     <circle cx="550.00" cy="554.28" r="3.353" fill="#0000ff"/>
     <circle cx="548.35" cy="553.78" r="3.353" fill="#0000ff"/>
     <circle cx="546.70" cy="553.28" r="3.353" fill="#0000ff"/>
     <circle cx="545.05" cy="552.77" r="3.353" fill="#0000ff"/>
     <circle cx="543.40" cy="552.27" r="3.353" fill="#0000ff"/>
     <circle cx="541.75" cy="551.77" r="3.353" fill="#0000ff"/>
     <circle cx="540.11" cy="551.26" r="3.353" fill="#0000ff"/>
     <circle cx="538.46" cy="550.76" r="3.353" fill="#0000ff"/>
     <circle cx="536.81" cy="550.25" r="3.353" fill="#0000ff"/>
     <circle cx="535.16" cy="549.75" r="3.353" fill="#0000ff"/>
     <circle cx="533.51" cy="549.25" r="3.353" fill="#0000ff"/>
     <circle cx="531.86" cy="548.74" r="3.353" fill="#0000ff"/>
     <circle cx="530.21" cy="548.24" r="3.353" fill="#0000ff"/>
     <circle cx="528.56" cy="547.74" r="3.353" fill="#0000ff"/>
     <circle cx="526.91" cy="547.23" r="3.353" fill="#0000ff"/>
     <circle cx="525.26" cy="546.73" r="3.353" fill="#0000ff"/>
     <circle cx="523.61" cy="546.23" r="3.353" fill="#0000ff"/>
     <circle cx="521.96" cy="545.72" r="3.353" fill="#0000ff"/>
     <circle cx="520.32" cy="545.22" r="3.353" fill="#0000ff"/>
     <circle cx="518.67" cy="544.72" r="3.353" fill="#0000ff"/>
     <circle cx="517.02" cy="544.21" r="3.353" fill="#0000ff"/>
     <circle cx="515.37" cy="543.71" r="3.353" fill="#0000ff"/>
     <circle cx="513.72" cy="543.21" r="3.353" fill="#0000ff"/>
     <circle cx="512.07" cy="542.70" r="3.353" fill="#0000ff"/>
     <circle cx="510.42" cy="542.20" r="3.353" fill="#0000ff"/>
     <circle cx="508.77" cy="541.70" r="3.353" fill="#0000ff"/>
     <circle cx="507.12" cy="541.19" r="3.353" fill="#0000ff"/>
     <circle cx="505.47" cy="540.69" r="3.353" fill="#0000ff"/>
     <circle cx="503.82" cy="540.18" r="3.353" fill="#0000ff"/>
     <circle cx="502.18" cy="539.68" r="3.353" fill="#0000ff"/>
     <circle cx="500.53" cy="539.18" r="3.353" fill="#0000ff"/>
     <circle cx="498.88" cy="538.67" r="3.353" fill="#0000ff"/>
     <circle cx="497.23" cy="538.17" r="3.353" fill="#0000ff"/>
     <circle cx="495.58" cy="537.67" r="3.353" fill="#0000ff"/>
     <circle cx="493.93" cy="537.16" r="3.353" fill="#0000ff"/>
     <circle cx="492.28" cy="536.66" r="3.353" fill="#0000ff"/>
     <circle cx="490.63" cy="536.16" r="3.353" fill="#0000ff"/>
     <circle cx="488.98" cy="535.65" r="3.353" fill="#0000ff"/>
     <circle cx="487.33" cy="535.15" r="3.353" fill="#0000ff"/>
     <circle cx="485.68" cy="534.65" r="3.353" fill="#0000ff"/>
     <circle cx="484.04" cy="534.14" r="3.353" fill="#0000ff"/>
     <circle cx="482.39" cy="533.64" r="3.353" fill="#0000ff"/>
     <circle cx="480.74" cy="533.14" r="3.353" fill="#0000ff"/>
     <circle cx="479.09" cy="532.63" r="3.353" fill="#0000ff"/>
     <circle cx="477.44" cy="532.13" r="3.353" fill="#0000ff"/>
     <circle cx="475.79" cy="531.62" r="3.353" fill="#0000ff"/>
     <circle cx="474.14" cy="531.12" r="3.353" fill="#0000ff"/>
     <circle cx="472.49" cy="530.62" r="3.353" fill="#0000ff"/>
     <circle cx="470.84" cy="530.11" r="3.353" fill="#0000ff"/>
     <circle cx="469.19" cy="529.61" r="3.353" fill="#0000ff"/>
     <circle cx="467.54" cy="529.11" r="3.353" fill="#0000ff"/>
     <circle cx="465.89" cy="528.60" r="3.353" fill="#0000ff"/>
     <circle cx="464.25" cy="528.10" r="3.353" fill="#0000ff"/>
     <circle cx="462.60" cy="527.60" r="3.353" fill="#0000ff"/>
     <circle cx="460.95" cy="527.09" r="3.353" fill="#0000ff"/>
     <circle cx="459.30" cy="526.59" r="3.353" fill="#0000ff"/>
     <circle cx="457.65" cy="526.09" r="3.353" fill="#0000ff"/>
     <circle cx="456.00" cy="525.58" r="3.353" fill="#0000ff"/>
     <circle cx="454.35" cy="525.08" r="3.353" fill="#0000ff"/>
     <circle cx="452.70" cy="524.58" r="3.353" fill="#0000ff"/>
     <circle cx="451.05" cy="524.07" r="3.353" fill="#0000ff"/>
     <circle cx="449.40" cy="523.57" r="3.353" fill="#0000ff"/>
     <circle cx="447.75" cy="523.07" r="3.353" fill="#0000ff"/>
     <circle cx="446.11" cy="522.56" r="3.353" fill="#0000ff"/>
     <circle cx="444.46" cy="522.06" r="3.353" fill="#0000ff"/>
     <circle cx="442.81" cy="521.55" r="3.353" fill="#0000ff"/>
     <circle cx="441.16" cy="521.05" r="3.353" fill="#0000ff"/>
     <circle cx="439.51" cy="520.55" r="3.353" fill="#0000ff"/>
     <circle cx="437.86" cy="520.04" r="3.353" fill="#0000ff"/>
     <circle cx="436.21" cy="519.54" r="3.353" fill="#0000ff"/>
     <circle cx="434.56" cy="519.04" r="3.353" fill="#0000ff"/>
     <circle cx="432.91" cy="518.53" r="3.353" fill="#0000ff"/>
     <circle cx="431.26" cy="518.03" r="3.353" fill="#0000ff"/>
     <circle cx="429.61" cy="517.53" r="3.353" fill="#0000ff"/>
     <circle cx="427.96" cy="517.02" r="3.353" fill="#0000ff"/>
     <circle cx="426.32" cy="516.52" r="3.353" fill="#0000ff"/>
     <circle cx="424.67" cy="516.02" r="3.353" fill="#0000ff"/>
     <circle cx="423.02" cy="515.51" r="3.353" fill="#0000ff"/>
     <circle cx="421.37" cy="515.01" r="3.353" fill="#0000ff"/>
     <circle cx="419.72" cy="514.51" r="3.353" fill="#0000ff"/>
     <circle cx="418.07" cy="514.00" r="3.353" fill="#0000ff"/>
     <circle cx="416.42" cy="513.50" r="3.353" fill="#0000ff"/>
     <circle cx="414.77" cy="513.00" r="3.353" fill="#0000ff"/>
     <circle cx="413.12" cy="512.49" r="3.353" fill="#0000ff"/>
     <circle cx="411.47" cy="511.99" r="3.353" fill="#0000ff"/>
     <circle cx="409.82" cy="511.48" r="3.353" fill="#0000ff"/>
     <circle cx="408.18" cy="510.98" r="3.353" fill="#0000ff"/>
     <circle cx="406.53" cy="510.48" r="3.353" fill="#0000ff"/>
     <circle cx="404.88" cy="509.97" r="3.353" fill="#0000ff"/>
     <circle cx="403.23" cy="509.47" r="3.353" fill="#0000ff"/>
     <circle cx="401.58" cy="508.97" r="3.353" fill="#0000ff"/>
     <circle cx="399.93" cy="508.46" r="3.353" fill="#0000ff"/>
     <circle cx="398.28" cy="507.96" r="3.353" fill="#0000ff"/>
     <circle cx="396.63" cy="507.46" r="3.353" fill="#0000ff"/>
     <circle cx="394.98" cy="506.95" r="3.353" fill="#0000ff"/>
     <circle cx="393.33" cy="506.45" r="3.353" fill="#0000ff"/>
     <circle cx="391.68" cy="505.95" r="3.353" fill="#0000ff"/>
     <circle cx="390.04" cy="505.44" r="3.353" fill="#0000ff"/>
     <circle cx="388.39" cy="504.94" r="3.353" fill="#0000ff"/>
     <circle cx="386.74" cy="504.44" r="3.353" fill="#0000ff"/>
     <circle cx="385.09" cy="503.93" r="3.353" fill="#0000ff"/>
     <circle cx="383.44" cy="503.43" r="3.353" fill="#0000ff"/>
     <circle cx="381.79" cy="502.92" r="3.353" fill="#0000ff"/>
     <circle cx="380.14" cy="502.42" r="3.353" fill="#0000ff"/>
     <circle cx="378.49" cy="501.92" r="3.353" fill="#0000ff"/>
     <circle cx="376.84" cy="501.41" r="3.353" fill="#0000ff"/>
     <circle cx="375.19" cy="500.91" r="3.353" fill="#0000ff"/>
     <circle cx="373.54" cy="500.41" r="3.353" fill="#0000ff"/>
     <circle cx="371.89" cy="499.90" r="3.353" fill="#0000ff"/>
     <circle cx="370.25" cy="499.40" r="3.353" fill="#0000ff"/>
     <circle cx="368.60" cy="498.90" r="3.353" fill="#0000ff"/>
     <circle cx="366.95" cy="498.39" r="3.353" fill="#0000ff"/>
     <circle cx="365.30" cy="497.89" r="3.353" fill="#0000ff"/>
     <circle cx="363.65" cy="497.39" r="3.353" fill="#0000ff"/>
     <circle cx="362.00" cy="496.88" r="3.353" fill="#0000ff"/>
     <circle cx="360.35" cy="496.38" r="3.353" fill="#0000ff"/>
     <circle cx="358.70" cy="495.88" r="3.353" fill="#0000ff"/>
     <circle cx="357.05" cy="495.37" r="3.353" fill="#0000ff"/>
     <circle cx="355.40" cy="494.87" r="3.353" fill="#0000ff"/>
     <circle cx="353.75" cy="494.37" r="3.353" fill="#0000ff"/>
     <circle cx="352.11" cy="493.86" r="3.353" fill="#0000ff"/>
     <circle cx="350.46" cy="493.36" r="3.353" fill="#0000ff"/>
     <circle cx="348.81" cy="492.85" r="3.353" fill="#0000ff"/>
     <circle cx="347.16" cy="492.35" r="3.353" fill="#0000ff"/>
     <circle cx="345.51" cy="491.85" r="3.353" fill="#0000ff"/>
     <circle cx="343.86" cy="491.34" r="3.353" fill="#0000ff"/>
     <circle cx="342.21" cy="490.84" r="3.353" fill="#0000ff"/>
     <circle cx="340.56" cy="490.34" r="3.353" fill="#0000ff"/>
     <circle cx="338.91" cy="489.83" r="3.353" fill="#0000ff"/>
     <circle cx="337.26" cy="489.33" r="3.353" fill="#0000ff"/>
     <circle cx="335.61" cy="488.83" r="3.353" fill="#0000ff"/>
     <circle cx="333.96" cy="488.32" r="3.353" fill="#0000ff"/>
     <circle cx="332.32" cy="487.82" r="3.353" fill="#0000ff"/>
     <circle cx="330.67" cy="487.32" r="3.353" fill="#0000ff"/>
     <circle cx="329.02" cy="486.81" r="3.353" fill="#0000ff"/>
     <circle cx="327.37" cy="486.31" r="3.353" fill="#0000ff"/>
     <circle cx="325.72" cy="485.81" r="3.353" fill="#0000ff"/>
     <circle cx="324.07" cy="485.30" r="3.353" fill="#0000ff"/>
     <circle cx="322.42" cy="484.80" r="3.353" fill="#0000ff"/>
     <circle cx="320.77" cy="484.30" r="3.353" fill="#0000ff"/>
     <circle cx="319.12" cy="483.79" r="3.353" fill="#0000ff"/>
     <circle cx="317.47" cy="483.29" r="3.353" fill="#0000ff"/>
     <circle cx="315.82" cy="482.78" r="3.353" fill="#0000ff"/>
     <circle cx="314.18" cy="482.28" r="3.353" fill="#0000ff"/>
     <circle cx="312.53" cy="481.78" r="3.353" fill="#0000ff"/>
     <circle cx="310.88" cy="481.27" r="3.353" fill="#0000ff"/>
     <circle cx="309.23" cy="480.77" r="3.353" fill="#0000ff"/>
     <circle cx="307.58" cy="480.27" r="3.353" fill="#0000ff"/>
     <circle cx="305.93" cy="479.76" r="3.353" fill="#0000ff"/>
     <circle cx="304.28" cy="479.26" r="3.353" fill="#0000ff"/>
     <circle cx="302.63" cy="478.76" r="3.353" fill="#0000ff"/>
     <circle cx="300.98" cy="478.25" r="3.353" fill="#0000ff"/>
     <circle cx="299.33" cy="477.75" r="3.353" fill="#0000ff"/>
     <circle cx="297.68" cy="477.25" r="3.353" fill="#0000ff"/>
     <circle cx="296.04" cy="476.74" r="3.353" fill="#0000ff"/>
     <circle cx="294.39" cy="476.24" r="3.353" fill="#0000ff"/>
     <circle cx="292.74" cy="475.74" r="3.353" fill="#0000ff"/>
     <circle cx="291.09" cy="475.23" r="3.353" fill="#0000ff"/>
     <circle cx="289.44" cy="474.73" r="3.353" fill="#0000ff"/>
     <circle cx="287.79" cy="474.22" r="3.353" fill="#0000ff"/>
     <circle cx="286.14" cy="473.72" r="3.353" fill="#0000ff"/>
     <circle cx="284.49" cy="473.22" r="3.353" fill="#0000ff"/>
     <circle cx="282.84" cy="472.71" r="3.353" fill="#0000ff"/>
     <circle cx="281.19" cy="472.21" r="3.353" fill="#0000ff"/>
     <circle cx="279.54" cy="471.71" r="3.353" fill="#0000ff"/>
     <circle cx="277.89" cy="471.20" r="3.353" fill="#0000ff"/>
     <circle cx="276.25" cy="470.70" r="3.353" fill="#0000ff"/>
     <circle cx="274.60" cy="470.20" r="3.353" fill="#0000ff"/>
     <circle cx="272.95" cy="469.69" r="3.353" fill="#0000ff"/>
     <circle cx="271.30" cy="469.19" r="3.353" fill="#0000ff"/>
     <circle cx="269.65" cy="468.69" r="3.353" fill="#0000ff"/>
     <circle cx="268.00" cy="468.18" r="3.353" fill="#0000ff"/>
     <circle cx="266.35" cy="467.68" r="3.353" fill="#0000ff"/>
     <circle cx="264.70" cy="467.18" r="3.353" fill="#0000ff"/>
     <circle cx="263.05" cy="466.67" r="3.353" fill="#0000ff"/>
     <circle cx="261.40" cy="466.17" r="3.353" fill="#0000ff"/>
     <circle cx="259.75" cy="465.67" r="3.353" fill="#0000ff"/>
     <circle cx="258.11" cy="465.16" r="3.353" fill="#0000ff"/>
     <circle cx="256.46" cy="464.66" r="3.353" fill="#0000ff"/>
     <circle cx="254.81" cy="464.15" r="3.353" fill="#0000ff"/>
     <circle cx="253.16" cy="463.65" r="3.353" fill="#0000ff"/>
     <circle cx="251.51" cy="463.15" r="3.353" fill="#0000ff"/>
     <circle cx="249.86" cy="462.64" r="3.353" fill="#0000ff"/>
     <circle cx="248.21" cy="462.14" r="3.353" fill="#0000ff"/>
     <circle cx="246.56" cy="461.64" r="3.353" fill="#0000ff"/>
     <circle cx="244.91" cy="461.13" r="3.353" fill="#0000ff"/>
     <circle cx="243.26" cy="460.63" r="3.353" fill="#0000ff"/>
     <circle cx="241.61" cy="460.13" r="3.353" fill="#0000ff"/>
     <circle cx="239.96" cy="459.62" r="3.353" fill="#0000ff"/>
     <circle cx="238.32" cy="459.12" r="3.353" fill="#0000ff"/>
     <circle cx="236.67" cy="458.62" r="3.353" fill="#0000ff"/>
     <circle cx="235.02" cy="458.11" r="3.353" fill="#0000ff"/>
     <circle cx="233.37" cy="457.61" r="3.353" fill="#0000ff"/>
     <circle cx="231.72" cy="457.11" r="3.353" fill="#0000ff"/>
     <circle cx="230.07" cy="456.60" r="3.353" fill="#0000ff"/>
     <circle cx="228.42" cy="456.10" r="3.353" fill="#0000ff"/>
     <circle cx="226.77" cy="455.60" r="3.353" fill="#0000ff"/>
     <circle cx="225.12" cy="455.09" r="3.353" fill="#0000ff"/>
     <circle cx="223.47" cy="454.59" r="3.353" fill="#0000ff"/>
     <circle cx="221.82" cy="454.08" r="3.353" fill="#0000ff"/>
     <circle cx="220.18" cy="453.58" r="3.353" fill="#0000ff"/>
     <circle cx="218.53" cy="453.08" r="3.353" fill="#0000ff"/>
     <circle cx="216.88" cy="452.57" r="3.353" fill="#0000ff"/>
     <circle cx="215.23" cy="452.07" r="3.353" fill="#0000ff"/>
     <circle cx="213.58" cy="451.57" r="3.353" fill="#0000ff"/>
     <circle cx="211.93" cy="451.06" r="3.353" fill="#0000ff"/>
     <circle cx="210.28" cy="450.56" r="3.353" fill="#0000ff"/>
     <circle cx="208.63" cy="450.06" r="3.353" fill="#0000ff"/>
     <circle cx="206.98" cy="449.55" r="3.353" fill="#0000ff"/>
     <circle cx="205.33" cy="449.05" r="3.353" fill="#0000ff"/>
    </g>
   </g>
   <g id="matplotlib.axis_1">
    <g id="xtick_1">
     <g id="line2d_1">
      <path d="M 205.09 854.4  L 205.09 115.2  " clip-path="url(#p3e86f9223a)" style="fill: none; stroke: #b0b0b0; stroke-width: 2.222222; stroke-linecap: square"/>
     </g>
     <g id="line2d_2">
      <g>
       <path d="M 205.09 854.40 L 205.09 864.12" style="stroke: #000000; stroke-width: 2.222222"/>
      </g>
     </g>
     <g id="text_1">
      <text style="font-size: 27.777778px; font-family: 'DejaVu Sans', 'Liberation Sans', sans-serif; text-anchor: middle" x="205.090909" y="895.951215">0</text>
     </g>
    </g>
    <g id="xtick_2">
     <g id="line2d_3">
      <path d="M 480.96 854.4  L 480.96 115.2  " clip-path="url(#p3e86f9223a)" style="fill: none; stroke: #b0b0b0; stroke-width: 2.222222; stroke-linecap: square"/>
     </g>
     <g id="line2d_4">
      <g>
       <path d="M 480.96 854.40 L 480.96 864.12" style="stroke: #000000; stroke-width: 2.222222"/>
      </g>
     </g>
     <g id="text_2">
      <text style="font-size: 27.777778px; font-family: 'DejaVu Sans', 'Liberation Sans', sans-serif; text-anchor: middle" x="480.96065" y="895.951215">5</text>
     </g>
    </g>
    <g id="xtick_3">
     <g id="line2d_5">
      <path d="M 756.83 854.4  L 756.83 115.2  " clip-path="url(#p3e86f9223a)" style="fill: none; stroke: #b0b0b0; stroke-width: 2.222222; stroke-linecap: square"/>
     </g>
     <g id="line2d_6">
      <g>
       <path d="M 756.83 854.40 L 756.83 864.12" style="stroke: #000000; stroke-width: 2.222222"/>
      </g>
     </g>
     <g id="text_3">
      <text style="font-size: 27.777778px; font-family: 'DejaVu Sans', 'Liberation Sans', sans-serif; text-anchor: middle" x="756.83039" y="895.951215">10</text>
     </g>
    </g>
    <g id="xtick_4">
     <g id="line2d_7">
      <path d="M 1032.70 854.4  L 1032.70 115.2  " clip-path="url(#p3e86f9223a)" style="fill: none; stroke: #b0b0b0; stroke-width: 2.222222; stroke-linecap: square"/>
     </g>
     <g id="line2d_8">
      <g>
       <path d="M 1032.70 854.40 L 1032.70 864.12" style="stroke: #000000; stroke-width: 2.222222"/>
      </g>
     </g>
     <g id="text_4">
      <text style="font-size: 27.777778px; font-family: 'DejaVu Sans', 'Liberation Sans', sans-serif; text-anchor: middle" x="1032.700131" y="895.951215">15</text>
     </g>
    </g>
    <g id="text_5">
     <text style="font-size: 27.777778px; font-family: 'DejaVu Sans', 'Liberation Sans', sans-serif; text-anchor: middle" x="656" y="933.946007">x from Sol [LY]</text>
    </g>
   </g>
   <g id="matplotlib.axis_2">
    <g id="ytick_1">
     <g id="line2d_9">
      <path d="M 160 854.4  L 1152 854.4  " clip-path="url(#p3e86f9223a)" style="fill: none; stroke: #b0b0b0; stroke-width: 2.222222; stroke-linecap: square"/>
     </g>
     <g id="line2d_10">
      <g>
       <path d="M 160.00 854.40 L 150.28 854.40" style="stroke: #000000; stroke-width: 2.222222"/>
      </g>
     </g>
     <g id="text_6">
      <text style="font-size: 27.777778px; font-family: 'DejaVu Sans', 'Liberation Sans', sans-serif; text-anchor: end" x="140.555556" y="864.953385">0</text>
     </g>
    </g>
    <g id="ytick_2">
     <g id="line2d_11">
      <path d="M 160 697.12  L 1152 697.12  " clip-path="url(#p3e86f9223a)" style="fill: none; stroke: #b0b0b0; stroke-width: 2.222222; stroke-linecap: square"/>
     </g>
     <g id="line2d_12">
      <g>
       <path d="M 160.00 697.12 L 150.28 697.12" style="stroke: #000000; stroke-width: 2.222222"/>
      </g>
     </g>
     <g id="text_7">
      <text style="font-size: 27.777778px; font-family: 'DejaVu Sans', 'Liberation Sans', sans-serif; text-anchor: end" x="140.555556" y="707.67679">10</text>
     </g>
    </g>
    <g id="ytick_3">
     <g id="line2d_13">
      <path d="M 160 539.85  L 1152 539.85  " clip-path="url(#p3e86f9223a)" style="fill: none; stroke: #b0b0b0; stroke-width: 2.222222; stroke-linecap: square"/>
     </g>
     <g id="line2d_14">
      <g>
       <path d="M 160.00 539.85 L 150.28 539.85" style="stroke: #000000; stroke-width: 2.222222"/>
      </g>
     </g>
     <g id="text_8">
      <text style="font-size: 27.777778px; font-family: 'DejaVu Sans', 'Liberation Sans', sans-serif; text-anchor: end" x="140.555556" y="550.400194">20</text>
     </g>
    </g>
    <g id="ytick_4">
     <g id="line2d_15">
      <path d="M 160 382.57  L 1152 382.57  " clip-path="url(#p3e86f9223a)" style="fill: none; stroke: #b0b0b0; stroke-width: 2.222222; stroke-linecap: square"/>
     </g>
     <g id="line2d_16">
      <g>
       <path d="M 160.00 382.57 L 150.28 382.57" style="stroke: #000000; stroke-width: 2.222222"/>
      </g>
     </g>
     <g id="text_9">
      <text style="font-size: 27.777778px; font-family: 'DejaVu Sans', 'Liberation Sans', sans-serif; text-anchor: end" x="140.555556" y="393.123598">30</text>
     </g>
    </g>
    <g id="ytick_5">
     <g id="line2d_17">
      <path d="M 160 225.29  L 1152 225.29  " clip-path="url(#p3e86f9223a)" style="fill: none; stroke: #b0b0b0; stroke-width: 2.222222; stroke-linecap: square"/>
     </g>
     <g id="line2d_18">
      <g>
       <path d="M 160.00 225.29 L 150.28 225.29" style="stroke: #000000; stroke-width: 2.222222"/>
      </g>
     </g>
     <g id="text_10">
      <text style="font-size: 27.777778px; font-family: 'DejaVu Sans', 'Liberation Sans', sans-serif; text-anchor: end" x="140.555556" y="235.847002">40</text>
     </g>
    </g>
    <g id="text_11">
     <text style="font-size: 27.777778px; font-family: 'DejaVu Sans', 'Liberation Sans', sans-serif; text-anchor: middle" x="88.320312" y="484.8" transform="rotate(-90 88.320312 484.8)">t at Sol [yr]</text>
    </g>
   </g>
   <g id="line2d_19">
    <path d="M 205.09 854.4  L 205.09 115.2  " clip-path="url(#p3e86f9223a)" style="fill: none; stroke-dasharray: 10.277778,4.444444; stroke-dashoffset: 0; stroke: #000000; stroke-width: 2.777778"/>
   </g>
   <g id="line2d_20">
    <path d="M 863.81 854.4  L 863.81 115.2  " clip-path="url(#p3e86f9223a)" style="fill: none; stroke-dasharray: 10.277778,4.444444; stroke-dashoffset: 0; stroke: #000000; stroke-width: 2.777778"/>
   </g>
   <g id="line2d_21">
    <path d="M 205.09 854.4  L 205.11 854.10  L 205.15 853.80  L 205.24 853.50  L 205.35 853.20  L 205.49 852.90  L 205.67 852.60  L 205.88 852.30  L 206.12 851.99  L 206.40 851.68  L 206.71 851.37  L 207.05 851.06  L 207.42 850.74  L 207.83 850.42  L 208.28 850.09  L 208.76 849.77  L 209.27 849.43  L 209.83 849.10  L 210.41 848.75  L 211.04 848.41  L 211.70 848.05  L 212.40 847.69  L 213.14 847.33  L 213.92 846.96  L 214.74 846.58  L 215.60 846.19  L 216.50 845.80  L 217.45 845.39  L 218.44 844.98  L 219.47 844.57  L 220.55 844.14  L 221.67 843.70  L 222.85 843.25  L 224.07 842.79  L 225.34 842.32  L 226.66 841.84  L 228.03 841.35  L 229.46 840.84  L 230.95 840.33  L 232.48 839.80  L 234.08 839.25  L 235.74 838.69  L 237.45 838.12  L 239.23 837.53  L 241.08 836.93  L 242.98 836.31  L 244.96 835.67  L 247.01 835.01  L 249.12 834.34  L 251.31 833.65  L 253.58 832.94  L 255.92 832.21  L 258.35 831.45  L 260.85 830.68  L 263.44 829.88  L 266.11 829.07  L 268.88 828.22  L 271.74 827.36  L 274.69 826.46  L 277.73 825.54  L 280.88 824.60  L 284.13 823.62  L 287.49 822.62  L 290.96 821.59  L 294.54 820.53  L 298.23 819.43  L 302.05 818.31  L 305.98 817.14  L 310.05 815.95  L 314.24 814.72  L 318.57 813.45  L 323.03 812.14  L 327.64 810.79  L 332.40 809.40  L 337.30 807.97  L 342.37 806.50  L 347.59 804.98  L 352.98 803.42  L 358.54 801.80  L 364.27 800.14  L 370.19 798.43  L 376.29 796.66  L 382.59 794.85  L 389.08 792.97  L 395.78 791.04  L 402.69 789.05  L 409.81 786.99  L 417.16 784.88  L 424.74 782.70  L 432.56 780.45  L 440.62 778.13  L 448.94 775.74  L 457.51 773.28  L 466.36 770.74  L 475.48 768.12  L 484.88 765.42  L 494.58 762.64  L 504.59 759.78  L 514.90 756.82  L 525.54 753.77  " clip-path="url(#p3e86f9223a)" style="fill: none; stroke: #ffa500; stroke-width: 5.555556; stroke-linecap: square"/>
   </g>
   <g id="line2d_22">
    <g clip-path="url(#p3e86f9223a)">
     <circle cx="845.99" cy="651.89" r="3.353" fill="#ffa500"/>
     <circle cx="845.98" cy="652.19" r="3.353" fill="#ffa500"/>
     <circle cx="845.93" cy="652.49" r="3.353" fill="#ffa500"/>
     <circle cx="845.85" cy="652.80" r="3.353" fill="#ffa500"/>
     <circle cx="845.73" cy="653.10" r="3.353" fill="#ffa500"/>
     <circle cx="845.59" cy="653.41" r="3.353" fill="#ffa500"/>
     <circle cx="845.41" cy="653.71" r="3.353" fill="#ffa500"/>
     <circle cx="845.20" cy="654.02" r="3.353" fill="#ffa500"/>
     <circle cx="844.96" cy="654.33" r="3.353" fill="#ffa500"/>
     <circle cx="844.69" cy="654.64" r="3.353" fill="#ffa500"/>
     <circle cx="844.38" cy="654.96" r="3.353" fill="#ffa500"/>
     <circle cx="844.04" cy="655.28" r="3.353" fill="#ffa500"/>
     <circle cx="843.66" cy="655.60" r="3.353" fill="#ffa500"/>
     <circle cx="843.25" cy="655.92" r="3.353" fill="#ffa500"/>
     <circle cx="842.80" cy="656.25" r="3.353" fill="#ffa500"/>
     <circle cx="842.32" cy="656.58" r="3.353" fill="#ffa500"/>
     <circle cx="841.81" cy="656.92" r="3.353" fill="#ffa500"/>
     <circle cx="841.26" cy="657.26" r="3.353" fill="#ffa500"/>
     <circle cx="840.67" cy="657.61" r="3.353" fill="#ffa500"/>
     <circle cx="840.04" cy="657.96" r="3.353" fill="#ffa500"/>
     <circle cx="839.38" cy="658.32" r="3.353" fill="#ffa500"/>
     <circle cx="838.68" cy="658.68" r="3.353" fill="#ffa500"/>
     <circle cx="837.94" cy="659.05" r="3.353" fill="#ffa500"/>
     <circle cx="837.16" cy="659.43" r="3.353" fill="#ffa500"/>
     <circle cx="836.34" cy="659.81" r="3.353" fill="#ffa500"/>
     <circle cx="835.48" cy="660.20" r="3.353" fill="#ffa500"/>
     <circle cx="834.58" cy="660.60" r="3.353" fill="#ffa500"/>
     <circle cx="833.64" cy="661.01" r="3.353" fill="#ffa500"/>
     <circle cx="832.65" cy="661.42" r="3.353" fill="#ffa500"/>
     <circle cx="831.61" cy="661.85" r="3.353" fill="#ffa500"/>
     <circle cx="830.54" cy="662.28" r="3.353" fill="#ffa500"/>
     <circle cx="829.41" cy="662.73" r="3.353" fill="#ffa500"/>
     <circle cx="828.24" cy="663.18" r="3.353" fill="#ffa500"/>
     <circle cx="827.02" cy="663.64" r="3.353" fill="#ffa500"/>
     <circle cx="825.74" cy="664.12" r="3.353" fill="#ffa500"/>
     <circle cx="824.42" cy="664.61" r="3.353" fill="#ffa500"/>
     <circle cx="823.05" cy="665.10" r="3.353" fill="#ffa500"/>
     <circle cx="821.62" cy="665.62" r="3.353" fill="#ffa500"/>
     <circle cx="820.14" cy="666.14" r="3.353" fill="#ffa500"/>
     <circle cx="818.60" cy="666.68" r="3.353" fill="#ffa500"/>
     <circle cx="817.00" cy="667.23" r="3.353" fill="#ffa500"/>
     <circle cx="815.35" cy="667.79" r="3.353" fill="#ffa500"/>
     <circle cx="813.63" cy="668.37" r="3.353" fill="#ffa500"/>
     <circle cx="811.85" cy="668.97" r="3.353" fill="#ffa500"/>
     <circle cx="810.01" cy="669.58" r="3.353" fill="#ffa500"/>
     <circle cx="808.10" cy="670.21" r="3.353" fill="#ffa500"/>
     <circle cx="806.12" cy="670.85" r="3.353" fill="#ffa500"/>
     <circle cx="804.08" cy="671.52" r="3.353" fill="#ffa500"/>
     <circle cx="801.96" cy="672.20" r="3.353" fill="#ffa500"/>
     <circle cx="799.77" cy="672.90" r="3.353" fill="#ffa500"/>
     <circle cx="797.50" cy="673.62" r="3.353" fill="#ffa500"/>
     <circle cx="795.16" cy="674.36" r="3.353" fill="#ffa500"/>
     <circle cx="792.74" cy="675.12" r="3.353" fill="#ffa500"/>
     <circle cx="790.23" cy="675.91" r="3.353" fill="#ffa500"/>
     <circle cx="787.64" cy="676.71" r="3.353" fill="#ffa500"/>
     <circle cx="784.97" cy="677.54" r="3.353" fill="#ffa500"/>
     <circle cx="782.20" cy="678.39" r="3.353" fill="#ffa500"/>
     <circle cx="779.35" cy="679.27" r="3.353" fill="#ffa500"/>
     <circle cx="776.40" cy="680.18" r="3.353" fill="#ffa500"/>
     <circle cx="773.35" cy="681.11" r="3.353" fill="#ffa500"/>
     <circle cx="770.20" cy="682.06" r="3.353" fill="#ffa500"/>
     <circle cx="766.95" cy="683.05" r="3.353" fill="#ffa500"/>
     <circle cx="763.59" cy="684.06" r="3.353" fill="#ffa500"/>
     <circle cx="760.12" cy="685.11" r="3.353" fill="#ffa500"/>
     <circle cx="756.55" cy="686.19" r="3.353" fill="#ffa500"/>
     <circle cx="752.85" cy="687.29" r="3.353" fill="#ffa500"/>
     <circle cx="749.04" cy="688.44" r="3.353" fill="#ffa500"/>
     <circle cx="745.10" cy="689.61" r="3.353" fill="#ffa500"/>
     <circle cx="741.04" cy="690.82" r="3.353" fill="#ffa500"/>
     <circle cx="736.84" cy="692.07" r="3.353" fill="#ffa500"/>
     <circle cx="732.51" cy="693.36" r="3.353" fill="#ffa500"/>
     <circle cx="728.05" cy="694.68" r="3.353" fill="#ffa500"/>
     <circle cx="723.44" cy="696.04" r="3.353" fill="#ffa500"/>
     <circle cx="718.68" cy="697.45" r="3.353" fill="#ffa500"/>
     <circle cx="713.78" cy="698.90" r="3.353" fill="#ffa500"/>
     <circle cx="708.71" cy="700.39" r="3.353" fill="#ffa500"/>
     <circle cx="703.49" cy="701.93" r="3.353" fill="#ffa500"/>
     <circle cx="698.10" cy="703.51" r="3.353" fill="#ffa500"/>
     <circle cx="692.54" cy="705.14" r="3.353" fill="#ffa500"/>
     <circle cx="686.81" cy="706.83" r="3.353" fill="#ffa500"/>
     <circle cx="680.89" cy="708.56" r="3.353" fill="#ffa500"/>
     <circle cx="674.79" cy="710.35" r="3.353" fill="#ffa500"/>
     <circle cx="668.49" cy="712.19" r="3.353" fill="#ffa500"/>
     <circle cx="662.00" cy="714.09" r="3.353" fill="#ffa500"/>
     <circle cx="655.30" cy="716.04" r="3.353" fill="#ffa500"/>
     <circle cx="648.39" cy="718.06" r="3.353" fill="#ffa500"/>
     <circle cx="641.27" cy="720.14" r="3.353" fill="#ffa500"/>
     <circle cx="633.92" cy="722.28" r="3.353" fill="#ffa500"/>
     <circle cx="626.34" cy="724.49" r="3.353" fill="#ffa500"/>
     <circle cx="618.52" cy="726.77" r="3.353" fill="#ffa500"/>
     <circle cx="610.46" cy="729.11" r="3.353" fill="#ffa500"/>
     <circle cx="602.14" cy="731.53" r="3.353" fill="#ffa500"/>
     <circle cx="593.57" cy="734.03" r="3.353" fill="#ffa500"/>
     <circle cx="584.73" cy="736.60" r="3.353" fill="#ffa500"/>
     <circle cx="575.60" cy="739.25" r="3.353" fill="#ffa500"/>
     <circle cx="566.20" cy="741.98" r="3.353" fill="#ffa500"/>
     <circle cx="556.50" cy="744.79" r="3.353" fill="#ffa500"/>
     <circle cx="546.49" cy="747.70" r="3.353" fill="#ffa500"/>
     <circle cx="536.18" cy="750.69" r="3.353" fill="#ffa500"/>
     <circle cx="525.54" cy="753.77" r="3.353" fill="#ffa500"/>
    </g>
   </g>
   <g id="patch_5">
    <path d="M 203.6 433.25  Q 656.6 304.57 1102.49 177.92  " clip-path="url(#p3e86f9223a)" style="fill: none; stroke: #ff00ff; stroke-width: 5.555556; stroke-linejoin: miter"/>
    <path d="M 1080.74 175.55  L 1102.49 177.92  L 1085.23 191.37  z " clip-path="url(#p3e86f9223a)" style="fill: #ff00ff; stroke: #ff00ff; stroke-width: 5.555556; stroke-linejoin: miter"/>
   </g>
   <g id="line2d_23">
    <path d="M 1107.57 854.4  L 1107.57 115.2  " clip-path="url(#p3e86f9223a)" style="fill: none; stroke-dasharray: 10.277778,4.444444; stroke-dashoffset: 0; stroke: #000000; stroke-width: 2.777778"/>
   </g>
   <g id="patch_6">
    <path d="M 160 854.4  L 160 115.2  " style="fill: none; stroke: #000000; stroke-width: 2.222222; stroke-linejoin: miter; stroke-linecap: square"/>
   </g>
   <g id="patch_7">
    <path d="M 1152 854.4  L 1152 115.2  " style="fill: none; stroke: #000000; stroke-width: 2.222222; stroke-linejoin: miter; stroke-linecap: square"/>
   </g>
   <g id="patch_8">
    <path d="M 160 854.4  L 1152 854.4  " style="fill: none; stroke: #000000; stroke-width: 2.222222; stroke-linejoin: miter; stroke-linecap: square"/>
   </g>
   <g id="patch_9">
    <path d="M 160 115.2  L 1152 115.2  " style="fill: none; stroke: #000000; stroke-width: 2.222222; stroke-linejoin: miter; stroke-linecap: square"/>
   </g>
   <g id="text_12">
    <text style="font-size: 27.777778px; font-family: 'DejaVu Sans', 'Liberation Sans', sans-serif; text-anchor: middle" x="205.090909" y="99.47234">Sol</text>
   </g>
   <g id="text_13">
    <text style="font-size: 27.777778px; font-family: 'DejaVu Sans', 'Liberation Sans', sans-serif; text-anchor: middle" x="863.812676" y="99.47234">Tau Ceti</text>
   </g>
   <g id="text_14">
    <text style="font-size: 27.777778px; font-family: 'DejaVu Sans', 'Liberation Sans', sans-serif; text-anchor: middle" x="1107.571178" y="99.47234">Erid</text>
   </g>
   <g id="text_15">
    <text style="font-size: 27.777778px; font-family: 'DejaVu Sans', 'Liberation Sans', sans-serif; text-anchor: start; fill: #ff00ff" x="498.892183" y="381.78383">Sol Recovery Info</text>
   </g>
   <g id="patch_10">
    <path d="M 1069.07 278.97  Q 1087.03 230.36 1103.91 184.66  " style="fill: none; stroke: #808080; stroke-width: 2.777778; stroke-linecap: round"/>
    <path d="M 1094.85 193.16  L 1103.91 184.66  L 1105.27 197.01  " style="fill: none; stroke: #808080; stroke-width: 2.777778; stroke-linecap: round"/>
   </g>
   <g id="text_16">
    <text style="font-size: 27.777778px; font-family: 'DejaVu Sans', 'Liberation Sans', sans-serif; text-anchor: start; fill: #808080" x="922.352234" y="311.795745">Last Scene of Novel</text>
   </g>
   <g id="legend_1">
    <g id="patch_11">
     <path d="M 180.08 263.77  L 500.75 263.77  Q 506.31 263.77 506.31 258.21  L 506.31 135.28  Q 506.31 129.73 500.75 129.73  L 180.08 129.73  Q 174.53 129.73 174.53 135.28  L 174.53 258.21  Q 174.53 263.77 180.08 263.77  z " style="fill: #ffffff; opacity: 0.8; stroke: #cccccc; stroke-width: 2.777778; stroke-linejoin: miter"/>
    </g>
    <g id="line2d_24">
     <path d="M 186.08 152.67  L 213.86 152.67  L 241.64 152.67  " style="fill: none; stroke: #ffa500; stroke-width: 5.555556; stroke-linecap: square"/>
    </g>
    <g id="text_17">
     <text style="font-size: 27.777778px; font-family: 'DejaVu Sans', 'Liberation Sans', sans-serif; text-anchor: start" x="263.861111" y="162.390104">Hail Mary</text>
    </g>
    <g id="PathCollection_4">
     <g>
      <circle cx="213.86" cy="197.12" r="3.353" fill="#ff0000"/>
     </g>
    </g>
    <g id="text_18">
     <text style="font-size: 27.777778px; font-family: 'DejaVu Sans', 'Liberation Sans', sans-serif; text-anchor: start" x="263.861111" y="204.412674">Hail Mary to Erid</text>
    </g>
    <g id="PathCollection_5">
     <g>
      <circle cx="213.86" cy="239.14" r="3.353" fill="#0000ff"/>
     </g>
    </g>
    <g id="text_19">
     <text style="font-size: 27.777778px; font-family: 'DejaVu Sans', 'Liberation Sans', sans-serif; text-anchor: start" x="263.861111" y="246.435243">Beetles</text>
    </g>
   </g>
  </g>
 </g>
 <defs>
  <clipPath id="p3e86f9223a">
   <rect x="160" y="115.2" width="992" height="739.2"/>
  </clipPath>
 </defs>
</svg>

</body></html>
